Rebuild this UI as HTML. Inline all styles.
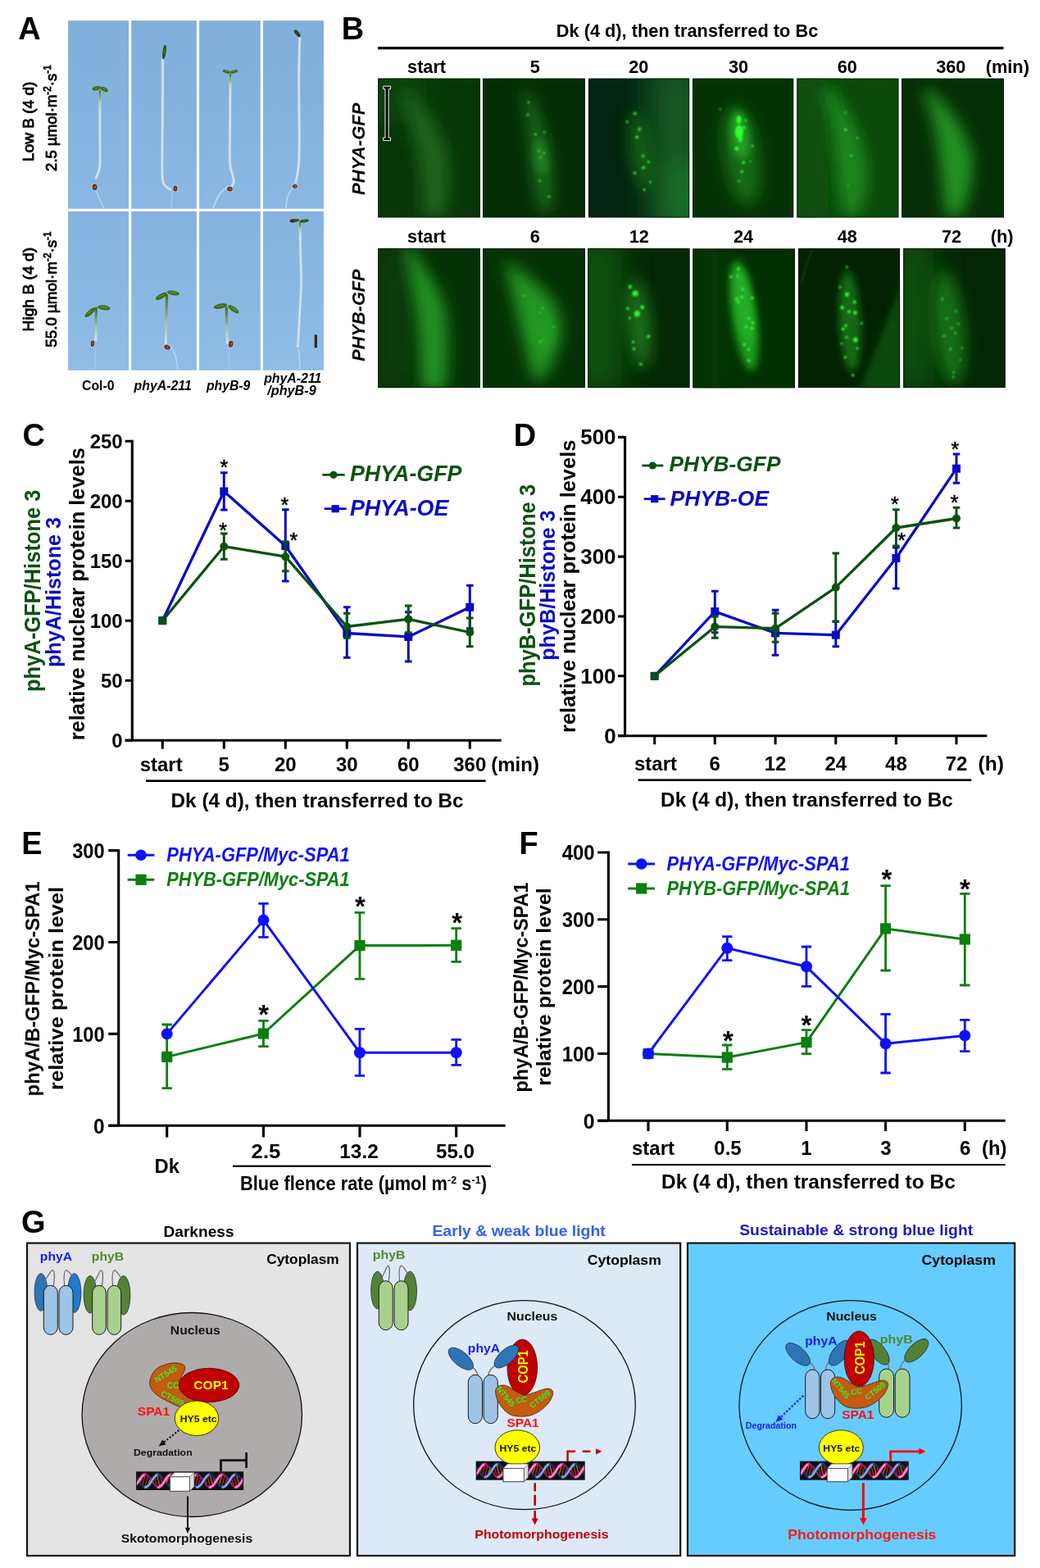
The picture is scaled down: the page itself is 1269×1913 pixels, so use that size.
<!DOCTYPE html>
<html lang="en"><head><meta charset="utf-8"><title>Figure</title>
<style>
html,body{margin:0;padding:0;background:#fff;}
body{width:1269px;height:1913px;overflow:hidden;}
svg{display:block;}
text{font-family:"Liberation Sans", Arial, sans-serif;font-weight:bold;}
</style></head><body>
<svg width="1269" height="1913" viewBox="0 0 1269 1913">
<defs>
<linearGradient id="skyA" x1="0" y1="0" x2="0" y2="1"><stop offset="0" stop-color="#81aedb"/><stop offset="1" stop-color="#8ab7e3"/></linearGradient>
<linearGradient id="skyB" x1="0" y1="0" x2="0" y2="1"><stop offset="0" stop-color="#85b3df"/><stop offset="1" stop-color="#90bce6"/></linearGradient>
<filter id="soft" x="-5%" y="-5%" width="110%" height="110%"><feGaussianBlur stdDeviation="0.45"/></filter>
<linearGradient id="gs1" gradientUnits="userSpaceOnUse" x1="121.9" y1="111.3" x2="121.9" y2="138.5"><stop offset="0" stop-color="#4f7f2c"/><stop offset="0.55" stop-color="#b7d3b8"/><stop offset="1" stop-color="#cfe0ea"/></linearGradient>
<linearGradient id="gs2" gradientUnits="userSpaceOnUse" x1="281.0" y1="91.1" x2="281.0" y2="113.3"><stop offset="0" stop-color="#4f7f2c"/><stop offset="0.55" stop-color="#b7d3b8"/><stop offset="1" stop-color="#cfe0ea"/></linearGradient>
<linearGradient id="gs3" gradientUnits="userSpaceOnUse" x1="117.3" y1="376.1" x2="116.8" y2="414.6"><stop offset="0" stop-color="#3f6e20"/><stop offset="0.55" stop-color="#9cc2a0"/><stop offset="1" stop-color="#cfe0ea"/></linearGradient>
<linearGradient id="gs4" gradientUnits="userSpaceOnUse" x1="203.6" y1="360.4" x2="202.3" y2="418.9"><stop offset="0" stop-color="#3f6e20"/><stop offset="0.55" stop-color="#9cc2a0"/><stop offset="1" stop-color="#cfe0ea"/></linearGradient>
<linearGradient id="gs5" gradientUnits="userSpaceOnUse" x1="276.2" y1="375.6" x2="277.4" y2="417.9"><stop offset="0" stop-color="#3f6e20"/><stop offset="0.55" stop-color="#9cc2a0"/><stop offset="1" stop-color="#cfe0ea"/></linearGradient>
<linearGradient id="gs6" gradientUnits="userSpaceOnUse" x1="366.0" y1="272.2" x2="366.2" y2="287.3"><stop offset="0" stop-color="#4f7f2c"/><stop offset="0.55" stop-color="#b7d3b8"/><stop offset="1" stop-color="#cfe0ea"/></linearGradient>
<filter id="b1" x="-50%" y="-50%" width="200%" height="200%"><feGaussianBlur stdDeviation="0.9"/></filter>
<filter id="b2" x="-50%" y="-50%" width="200%" height="200%"><feGaussianBlur stdDeviation="2.2"/></filter>
<filter id="b3" x="-80%" y="-80%" width="260%" height="260%"><feGaussianBlur stdDeviation="5"/></filter>
<filter id="b6" x="-100%" y="-100%" width="300%" height="300%"><feGaussianBlur stdDeviation="9"/></filter>
<filter id="b10" x="-100%" y="-100%" width="300%" height="300%"><feGaussianBlur stdDeviation="18"/></filter>
<clipPath id="fc1"><rect x="461.2" y="95.5" width="124.8" height="170.1"/></clipPath>
<clipPath id="fc2"><rect x="589" y="95.5" width="124.9" height="170.1"/></clipPath>
<clipPath id="fc3"><rect x="717.8" y="95.5" width="123.4" height="170.1"/></clipPath>
<clipPath id="fc4"><rect x="845" y="95.5" width="123.4" height="170.1"/></clipPath>
<clipPath id="fc5"><rect x="972.3" y="95.5" width="124.3" height="170.1"/></clipPath>
<clipPath id="fc6"><rect x="1100.1" y="95.5" width="124.9" height="170.1"/></clipPath>
<clipPath id="fc7"><rect x="461.2" y="302.8" width="124.8" height="170.4"/></clipPath>
<clipPath id="fc8"><rect x="589" y="302.8" width="125.0" height="170.4"/></clipPath>
<clipPath id="fc9"><rect x="717.2" y="302.8" width="124.5" height="170.4"/></clipPath>
<clipPath id="fc10"><rect x="845.2" y="303.3" width="124.9" height="170.2"/></clipPath>
<clipPath id="fc11"><rect x="973.8" y="302.8" width="124.4" height="170.4"/></clipPath>
<clipPath id="fc12"><rect x="1102.2" y="302.8" width="124.6" height="170.4"/></clipPath>
<clipPath id="dna166"><rect x="167.1" y="1796.3" width="129.0" height="20.7"/></clipPath>
<clipPath id="dna580"><rect x="581.7" y="1783.7" width="131.0" height="21.0"/></clipPath>
<clipPath id="dna976"><rect x="977" y="1783.7" width="130.7" height="21.0"/></clipPath>
</defs>
<rect width="1269" height="1913" fill="#fff"/>
<text x="35.9" y="48.1" font-size="38" text-anchor="middle">A</text>
<rect x="83.1" y="25.1" width="74.0" height="229.6" fill="url(#skyA)"/>
<rect x="160.2" y="25.1" width="79.7" height="229.6" fill="url(#skyA)"/>
<rect x="243.1" y="25.1" width="74.7" height="229.6" fill="url(#skyA)"/>
<rect x="321.0" y="25.1" width="74.0" height="229.6" fill="url(#skyA)"/>
<rect x="83.1" y="257.9" width="74.0" height="193.9" fill="url(#skyB)"/>
<rect x="160.2" y="257.9" width="79.7" height="193.9" fill="url(#skyB)"/>
<rect x="243.1" y="257.9" width="74.7" height="193.9" fill="url(#skyB)"/>
<rect x="321.0" y="257.9" width="74.0" height="193.9" fill="url(#skyB)"/>
<g filter="url(#soft)">
<path d="M117.8 233.1 C118.5 234.8 120.1 239.8 121.6 243.2 C123.1 246.5 125.8 251.6 126.7 253.3" fill="none" stroke="#c2d8ee" stroke-width="1.5" stroke-linecap="round" opacity="0.75"/>
<path d="M121.9 112.0 C121.9 119.8 121.9 144.0 121.9 158.7 C121.9 173.4 122.2 191.7 121.9 200.3 C121.5 208.9 120.6 207.6 119.8 210.4 C119.0 213.2 117.5 216.1 117.1 217.2" fill="none" stroke="#a3c2e0" stroke-width="4.0" stroke-linecap="round" opacity="0.85"/>
<path d="M121.9 112.0 C121.9 119.8 121.9 144.0 121.9 158.7 C121.9 173.4 122.2 191.7 121.9 200.3 C121.5 208.9 120.6 207.6 119.8 210.4 C119.0 213.2 117.5 216.1 117.1 217.2" fill="none" stroke="#cfe1f0" stroke-width="2.4000000000000004" stroke-linecap="round" opacity="0.9"/>
<path d="M121.9 112.0 C121.9 119.8 121.9 144.0 121.9 158.7 C121.9 173.4 122.2 191.7 121.9 200.3 C121.5 208.9 120.6 207.6 119.8 210.4 C119.0 213.2 117.5 216.1 117.1 217.2" fill="none" stroke="#eef5fa" stroke-width="1.0" stroke-linecap="butt" opacity="0.8" stroke-dasharray="2.5 1.4 1 1 3 1.2"/>
<path d="M121.9 111.3 C121.9 115.8 121.9 134.0 121.9 138.5" fill="none" stroke="url(#gs1)" stroke-width="2.6" stroke-linecap="round"/>
<ellipse cx="117.6" cy="107.8" rx="5.3" ry="2.5" fill="#3c6a1e" transform="rotate(-12 117.6 107.8)"/>
<ellipse cx="117.6" cy="107.4" rx="3.2" ry="1.0" fill="#5c8a2c" opacity="0.8" transform="rotate(-12 117.6 107.8)"/>
<ellipse cx="127.2" cy="109.0" rx="5.0" ry="2.5" fill="#3c6a1e" transform="rotate(26 127.2 109.0)"/>
<ellipse cx="127.2" cy="108.6" rx="3.0" ry="1.0" fill="#5c8a2c" opacity="0.8" transform="rotate(26 127.2 109.0)"/>
<ellipse cx="115.6" cy="228.3" rx="4.0" ry="4.8" fill="#c9d6e0" opacity="0.6" transform="rotate(0 115.6 228.3)"/>
<ellipse cx="115.6" cy="228.3" rx="3.0" ry="3.8" fill="#5e2f1a" transform="rotate(0 115.6 228.3)"/>
<ellipse cx="115.9" cy="228.3" rx="1.5" ry="2.1" fill="#94553a" transform="rotate(0 115.6 228.3)"/>
<path d="M209.9 234.3 C209.7 237.5 209.2 250.1 209.1 253.3" fill="none" stroke="#c2d8ee" stroke-width="1.2" stroke-linecap="round" opacity="0.55"/>
<path d="M198.5 72.5 C198.5 84.7 198.4 122.9 198.3 146.1 C198.2 169.3 197.6 198.4 198.0 211.6 C198.4 224.9 198.9 222.2 200.5 225.5 C202.2 228.8 206.8 230.3 208.1 231.3" fill="none" stroke="#a3c2e0" stroke-width="4.0" stroke-linecap="round" opacity="0.85"/>
<path d="M198.5 72.5 C198.5 84.7 198.4 122.9 198.3 146.1 C198.2 169.3 197.6 198.4 198.0 211.6 C198.4 224.9 198.9 222.2 200.5 225.5 C202.2 228.8 206.8 230.3 208.1 231.3" fill="none" stroke="#cfe1f0" stroke-width="2.4000000000000004" stroke-linecap="round" opacity="0.9"/>
<path d="M198.5 72.5 C198.5 84.7 198.4 122.9 198.3 146.1 C198.2 169.3 197.6 198.4 198.0 211.6 C198.4 224.9 198.9 222.2 200.5 225.5 C202.2 228.8 206.8 230.3 208.1 231.3" fill="none" stroke="#eef5fa" stroke-width="1.0" stroke-linecap="butt" opacity="0.8" stroke-dasharray="2.5 1.4 1 1 3 1.2"/>
<ellipse cx="200.5" cy="63.4" rx="2.1" ry="9.1" fill="#2c4f1a" transform="rotate(8 200.5 63.4)"/>
<ellipse cx="200.5" cy="63.0" rx="1.3" ry="3.6" fill="#456f24" opacity="0.8" transform="rotate(8 200.5 63.4)"/>
<ellipse cx="213.9" cy="230.1" rx="3.5" ry="4.5" fill="#c9d6e0" opacity="0.6" transform="rotate(0 213.9 230.1)"/>
<ellipse cx="213.9" cy="230.1" rx="2.5" ry="3.5" fill="#5e2f1a" transform="rotate(0 213.9 230.1)"/>
<ellipse cx="214.2" cy="230.1" rx="1.3" ry="1.9" fill="#94553a" transform="rotate(0 213.9 230.1)"/>
<path d="M278.0 227.3 C276.3 228.9 270.8 232.5 267.9 236.9 C264.9 241.2 261.6 250.5 260.3 253.3" fill="none" stroke="#c2d8ee" stroke-width="2.0" stroke-linecap="round" opacity="0.85"/>
<path d="M281.0 91.9 C280.9 100.9 280.8 128.4 280.7 146.1 C280.6 163.7 280.1 186.9 280.5 197.8 C280.9 208.7 282.4 207.7 283.2 211.6 C284.0 215.6 285.4 219.1 285.3 221.7 C285.1 224.3 283.0 226.4 282.5 227.3" fill="none" stroke="#a3c2e0" stroke-width="4.0" stroke-linecap="round" opacity="0.85"/>
<path d="M281.0 91.9 C280.9 100.9 280.8 128.4 280.7 146.1 C280.6 163.7 280.1 186.9 280.5 197.8 C280.9 208.7 282.4 207.7 283.2 211.6 C284.0 215.6 285.4 219.1 285.3 221.7 C285.1 224.3 283.0 226.4 282.5 227.3" fill="none" stroke="#cfe1f0" stroke-width="2.4000000000000004" stroke-linecap="round" opacity="0.9"/>
<path d="M281.0 91.9 C280.9 100.9 280.8 128.4 280.7 146.1 C280.6 163.7 280.1 186.9 280.5 197.8 C280.9 208.7 282.4 207.7 283.2 211.6 C284.0 215.6 285.4 219.1 285.3 221.7 C285.1 224.3 283.0 226.4 282.5 227.3" fill="none" stroke="#eef5fa" stroke-width="1.0" stroke-linecap="butt" opacity="0.8" stroke-dasharray="2.5 1.4 1 1 3 1.2"/>
<path d="M281.0 91.1 C281.0 94.8 281.0 109.6 281.0 113.3" fill="none" stroke="url(#gs2)" stroke-width="2.6" stroke-linecap="round"/>
<ellipse cx="276.4" cy="87.3" rx="4.8" ry="1.9" fill="#3c6a1e" transform="rotate(16 276.4 87.3)"/>
<ellipse cx="276.4" cy="86.9" rx="2.9" ry="0.8" fill="#5c8a2c" opacity="0.8" transform="rotate(16 276.4 87.3)"/>
<ellipse cx="285.5" cy="87.3" rx="4.8" ry="1.9" fill="#3c6a1e" transform="rotate(-16 285.5 87.3)"/>
<ellipse cx="285.5" cy="86.9" rx="2.9" ry="0.8" fill="#5c8a2c" opacity="0.8" transform="rotate(-16 285.5 87.3)"/>
<ellipse cx="280.5" cy="230.6" rx="4.3" ry="3.8" fill="#c9d6e0" opacity="0.6" transform="rotate(0 280.5 230.6)"/>
<ellipse cx="280.5" cy="230.6" rx="3.3" ry="2.8" fill="#5e2f1a" transform="rotate(0 280.5 230.6)"/>
<ellipse cx="280.8" cy="230.6" rx="1.6" ry="1.5" fill="#94553a" transform="rotate(0 280.5 230.6)"/>
<path d="M356.9 229.8 C355.9 231.4 352.4 235.5 351.1 239.4 C349.7 243.3 349.2 250.9 348.8 253.3" fill="none" stroke="#c2d8ee" stroke-width="1.8" stroke-linecap="round" opacity="0.8"/>
<path d="M365.7 46.5 C365.5 54.7 364.8 81.2 364.7 95.7 C364.6 110.1 364.9 120.9 364.9 133.5 C365.0 146.1 365.3 160.0 365.2 171.3 C365.1 182.6 365.2 193.1 364.4 201.6 C363.7 210.0 361.5 218.8 360.9 222.2" fill="none" stroke="#a3c2e0" stroke-width="4.0" stroke-linecap="round" opacity="0.85"/>
<path d="M365.7 46.5 C365.5 54.7 364.8 81.2 364.7 95.7 C364.6 110.1 364.9 120.9 364.9 133.5 C365.0 146.1 365.3 160.0 365.2 171.3 C365.1 182.6 365.2 193.1 364.4 201.6 C363.7 210.0 361.5 218.8 360.9 222.2" fill="none" stroke="#cfe1f0" stroke-width="2.4000000000000004" stroke-linecap="round" opacity="0.9"/>
<path d="M365.7 46.5 C365.5 54.7 364.8 81.2 364.7 95.7 C364.6 110.1 364.9 120.9 364.9 133.5 C365.0 146.1 365.3 160.0 365.2 171.3 C365.1 182.6 365.2 193.1 364.4 201.6 C363.7 210.0 361.5 218.8 360.9 222.2" fill="none" stroke="#eef5fa" stroke-width="1.0" stroke-linecap="butt" opacity="0.8" stroke-dasharray="2.5 1.4 1 1 3 1.2"/>
<ellipse cx="362.7" cy="40.7" rx="2.3" ry="5.3" fill="#2a3a18" transform="rotate(-38 362.7 40.7)"/>
<ellipse cx="362.7" cy="40.3" rx="1.4" ry="2.1" fill="#3c5020" opacity="0.8" transform="rotate(-38 362.7 40.7)"/>
<ellipse cx="359.9" cy="227.3" rx="3.8" ry="3.5" fill="#c9d6e0" opacity="0.6" transform="rotate(0 359.9 227.3)"/>
<ellipse cx="359.9" cy="227.3" rx="2.8" ry="2.5" fill="#5e2f1a" transform="rotate(0 359.9 227.3)"/>
<ellipse cx="360.2" cy="227.3" rx="1.4" ry="1.4" fill="#94553a" transform="rotate(0 359.9 227.3)"/>
<path d="M116.6 424.0 C116.5 426.0 116.1 431.7 116.1 436.1 C116.0 440.4 116.3 447.6 116.3 449.9" fill="none" stroke="#c2d8ee" stroke-width="1.5" stroke-linecap="round" opacity="0.4"/>
<path d="M117.3 376.1 C117.3 379.3 117.2 389.3 117.1 395.7 C117.0 402.2 116.9 411.5 116.8 414.6" fill="none" stroke="url(#gs3)" stroke-width="3.2" stroke-linecap="round"/>
<ellipse cx="110.0" cy="381.1" rx="8.3" ry="2.8" fill="#3a6a1c" transform="rotate(-42 110.0 381.1)"/>
<ellipse cx="110.0" cy="380.7" rx="5.0" ry="1.1" fill="#5a8a2a" opacity="0.8" transform="rotate(-42 110.0 381.1)"/>
<ellipse cx="126.9" cy="375.3" rx="7.8" ry="3.0" fill="#3f701e" transform="rotate(8 126.9 375.3)"/>
<ellipse cx="126.9" cy="374.9" rx="4.7" ry="1.2" fill="#5f902c" opacity="0.8" transform="rotate(8 126.9 375.3)"/>
<ellipse cx="113.0" cy="419.2" rx="3.3" ry="4.8" fill="#c9d6e0" opacity="0.6" transform="rotate(4 113.0 419.2)"/>
<ellipse cx="113.0" cy="419.2" rx="2.3" ry="3.8" fill="#5e2f1a" transform="rotate(4 113.0 419.2)"/>
<ellipse cx="113.3" cy="419.2" rx="1.1" ry="2.1" fill="#94553a" transform="rotate(4 113.0 419.2)"/>
<path d="M207.3 421.4 C208.4 423.3 212.1 427.5 213.6 432.3 C215.2 437.0 216.2 447.0 216.7 449.9" fill="none" stroke="#c2d8ee" stroke-width="1.8" stroke-linecap="round" opacity="0.8"/>
<path d="M203.6 360.4 C203.4 365.5 203.0 380.9 202.8 390.7 C202.6 400.4 202.4 414.2 202.3 418.9" fill="none" stroke="url(#gs4)" stroke-width="3.2" stroke-linecap="round"/>
<ellipse cx="196.8" cy="361.4" rx="7.8" ry="3.0" fill="#3a6a1c" transform="rotate(-30 196.8 361.4)"/>
<ellipse cx="196.8" cy="361.0" rx="4.7" ry="1.2" fill="#5a8a2a" opacity="0.8" transform="rotate(-30 196.8 361.4)"/>
<ellipse cx="211.6" cy="357.4" rx="7.6" ry="2.8" fill="#3f701e" transform="rotate(10 211.6 357.4)"/>
<ellipse cx="211.6" cy="357.0" rx="4.5" ry="1.1" fill="#5f902c" opacity="0.8" transform="rotate(10 211.6 357.4)"/>
<ellipse cx="204.1" cy="423.7" rx="4.8" ry="3.8" fill="#c9d6e0" opacity="0.6" transform="rotate(25 204.1 423.7)"/>
<ellipse cx="204.1" cy="423.7" rx="3.8" ry="2.8" fill="#5e2f1a" transform="rotate(25 204.1 423.7)"/>
<ellipse cx="204.4" cy="423.7" rx="1.9" ry="1.5" fill="#94553a" transform="rotate(25 204.1 423.7)"/>
<path d="M279.2 425.0 C279.3 426.8 279.4 431.9 279.5 436.1 C279.5 440.2 279.7 447.6 279.7 449.9" fill="none" stroke="#c2d8ee" stroke-width="1.5" stroke-linecap="round" opacity="0.4"/>
<path d="M276.2 375.6 C276.3 378.9 276.5 388.7 276.7 395.7 C276.9 402.8 277.3 414.2 277.4 417.9" fill="none" stroke="url(#gs5)" stroke-width="3.2" stroke-linecap="round"/>
<ellipse cx="268.9" cy="373.5" rx="8.3" ry="3.0" fill="#3a6a1c" transform="rotate(-12 268.9 373.5)"/>
<ellipse cx="268.9" cy="373.1" rx="5.0" ry="1.2" fill="#5a8a2a" opacity="0.8" transform="rotate(-12 268.9 373.5)"/>
<ellipse cx="284.8" cy="377.1" rx="7.8" ry="3.0" fill="#3f701e" transform="rotate(36 284.8 377.1)"/>
<ellipse cx="284.8" cy="376.7" rx="4.7" ry="1.2" fill="#5f902c" opacity="0.8" transform="rotate(36 284.8 377.1)"/>
<ellipse cx="281.7" cy="419.7" rx="3.8" ry="5.0" fill="#c9d6e0" opacity="0.6" transform="rotate(10 281.7 419.7)"/>
<ellipse cx="281.7" cy="419.7" rx="2.8" ry="4.0" fill="#5e2f1a" transform="rotate(10 281.7 419.7)"/>
<ellipse cx="282.0" cy="419.7" rx="1.4" ry="2.2" fill="#94553a" transform="rotate(10 281.7 419.7)"/>
<path d="M364.4 426.5 C364.6 428.5 365.2 434.7 365.5 438.6 C365.7 442.5 366.1 448.1 366.2 449.9" fill="none" stroke="#c2d8ee" stroke-width="1.8" stroke-linecap="round" opacity="0.8"/>
<path d="M366.0 273.4 C366.1 279.5 366.5 297.6 366.7 310.0 C367.0 322.4 367.7 335.2 367.5 347.8 C367.3 360.4 366.1 373.1 365.5 385.6 C364.8 398.2 363.8 416.7 363.4 423.0" fill="none" stroke="#a3c2e0" stroke-width="4.0" stroke-linecap="round" opacity="0.85"/>
<path d="M366.0 273.4 C366.1 279.5 366.5 297.6 366.7 310.0 C367.0 322.4 367.7 335.2 367.5 347.8 C367.3 360.4 366.1 373.1 365.5 385.6 C364.8 398.2 363.8 416.7 363.4 423.0" fill="none" stroke="#cfe1f0" stroke-width="2.4000000000000004" stroke-linecap="round" opacity="0.9"/>
<path d="M366.0 273.4 C366.1 279.5 366.5 297.6 366.7 310.0 C367.0 322.4 367.7 335.2 367.5 347.8 C367.3 360.4 366.1 373.1 365.5 385.6 C364.8 398.2 363.8 416.7 363.4 423.0" fill="none" stroke="#eef5fa" stroke-width="1.0" stroke-linecap="butt" opacity="0.8" stroke-dasharray="2.5 1.4 1 1 3 1.2"/>
<path d="M366.0 272.2 C366.0 274.7 366.2 284.8 366.2 287.3" fill="none" stroke="url(#gs6)" stroke-width="2.6" stroke-linecap="round"/>
<ellipse cx="359.9" cy="269.1" rx="5.5" ry="2.0" fill="#33501a" transform="rotate(-6 359.9 269.1)"/>
<ellipse cx="359.9" cy="268.7" rx="3.3" ry="0.8" fill="#4a6a22" opacity="0.8" transform="rotate(-6 359.9 269.1)"/>
<ellipse cx="371.3" cy="269.6" rx="5.5" ry="1.9" fill="#33501a" transform="rotate(-6 371.3 269.6)"/>
<ellipse cx="371.3" cy="269.2" rx="3.3" ry="0.8" fill="#4a6a22" opacity="0.8" transform="rotate(-6 371.3 269.6)"/>
<ellipse cx="356.6" cy="269.6" rx="3.1" ry="2.1" fill="#4a2a16"/>
</g>
<rect x="383.7" y="408.4" width="3.3" height="15.8" fill="#3a2626"/>
<text x="41.4" y="148.3" font-size="19" text-anchor="middle" style="font-weight:normal;" transform="rotate(-90 41.4 148.3)" textLength="97.2" lengthAdjust="spacingAndGlyphs" stroke="#000" stroke-width="0.85" stroke-linejoin="round">Low B (4 d)</text>
<text x="68.9" y="144.1" font-size="19" text-anchor="middle" style="font-weight:normal;" transform="rotate(-90 68.9 144.1)" textLength="129.6" lengthAdjust="spacingAndGlyphs" stroke="#000" stroke-width="0.85" stroke-linejoin="round">2.5 µmol·m<tspan dy="-7" font-size="12">-2</tspan><tspan dy="7">·s</tspan><tspan dy="-7" font-size="12">-1</tspan></text>
<text x="41.4" y="353.2" font-size="19" text-anchor="middle" style="font-weight:normal;" transform="rotate(-90 41.4 353.2)" textLength="102.6" lengthAdjust="spacingAndGlyphs" stroke="#000" stroke-width="0.85" stroke-linejoin="round">High B (4 d)</text>
<text x="68.9" y="353.0" font-size="19" text-anchor="middle" style="font-weight:normal;" transform="rotate(-90 68.9 353.0)" textLength="141.3" lengthAdjust="spacingAndGlyphs" stroke="#000" stroke-width="0.85" stroke-linejoin="round">55.0 µmol·m<tspan dy="-7" font-size="12">-2</tspan><tspan dy="7">·s</tspan><tspan dy="-7" font-size="12">-1</tspan></text>
<text x="119.8" y="475.5" font-size="15.81" text-anchor="middle">Col-0</text>
<text x="198.7" y="475.5" font-size="15.89" text-anchor="middle" style="font-style:italic;">phyA-211</text>
<text x="278.6" y="475.5" font-size="15.73" text-anchor="middle" style="font-style:italic;">phyB-9</text>
<text x="357.3" y="466.8" font-size="15.89" text-anchor="middle" style="font-style:italic;">phyA-211</text>
<text x="356.0" y="481.8" font-size="16.19" text-anchor="middle" style="font-style:italic;">/phyB-9</text>
<text x="430.5" y="47.7" font-size="38" text-anchor="middle">B</text>
<rect x="461" y="57" width="763.5" height="3.3" fill="#000"/>
<text x="838.5" y="45.2" font-size="21.79" text-anchor="middle">Dk (4 d), then transferred to Bc</text>
<text x="520.6" y="88.5" font-size="21.7" text-anchor="middle">start</text>
<text x="652.7" y="88.5" font-size="21.7" text-anchor="middle">5</text>
<text x="779.3" y="88.5" font-size="21.7" text-anchor="middle">20</text>
<text x="901.0" y="88.5" font-size="21.7" text-anchor="middle">30</text>
<text x="1033.7" y="88.5" font-size="21.7" text-anchor="middle">60</text>
<text x="1160.3" y="88.5" font-size="21.7" text-anchor="middle">360</text>
<text x="1229.3" y="88.5" font-size="21.8" text-anchor="middle">(min)</text>
<text x="520.6" y="295.7" font-size="21.7" text-anchor="middle">start</text>
<text x="652.7" y="295.7" font-size="21.7" text-anchor="middle">6</text>
<text x="779.8" y="295.7" font-size="21.7" text-anchor="middle">12</text>
<text x="907.0" y="295.7" font-size="21.7" text-anchor="middle">24</text>
<text x="1033.7" y="295.7" font-size="21.7" text-anchor="middle">48</text>
<text x="1161.0" y="295.7" font-size="21.7" text-anchor="middle">72</text>
<text x="1222.7" y="295.7" font-size="21.89" text-anchor="middle">(h)</text>
<text x="445.0" y="181.7" font-size="22.11" text-anchor="middle" style="font-style:italic;" transform="rotate(-90 445.0 181.7)">PHYA-GFP</text>
<text x="445.0" y="384.5" font-size="21.73" text-anchor="middle" style="font-style:italic;" transform="rotate(-90 445.0 384.5)">PHYB-GFP</text>
<g clip-path="url(#fc1)">
<rect x="461.2" y="95.5" width="124.8" height="170.1" fill="#073607"/>
<rect x="455" y="80" width="65" height="70" fill="#0e460e" opacity="0.9" filter="url(#b10)"/>
<path d="M498 110 Q534 145 546 185 Q552 225 544 264 L514 264 Q516 225 508 185 Q500 145 488 112Z" fill="#1a621a" filter="url(#b6)" opacity="1"/>
<rect x="461.7" y="96.0" width="123.8" height="169.1" fill="none" stroke="#021502" stroke-width="1.2" opacity="0.8"/>
</g>
<path d="M467.6 105.2 h9 v3.4 h-2.4 v59.4 h2.4 v3.4 h-9 v-3.4 h2.4 v-59.4 h-2.4z" fill="#0a0a0a" stroke="#f4f4f4" stroke-width="1"/>
<g clip-path="url(#fc2)">
<rect x="589" y="95.5" width="124.9" height="170.1" fill="#052e05"/>
<path d="M641 108 Q662 140 670 185 Q676 225 672 258 L660 258 Q650 225 648 185 Q644 140 637 110Z" fill="#1d6e1d" filter="url(#b6)" opacity="1"/>
<ellipse cx="660" cy="192" rx="8" ry="22" fill="#238023" transform="rotate(-8 660 192)" filter="url(#b3)" opacity="0.9"/>
<g filter="url(#b1)" fill="#39c039"><circle cx="645" cy="125" r="1.7"/><circle cx="644" cy="140" r="1.7"/><circle cx="664.4" cy="161.4" r="1.4"/><circle cx="653.4" cy="164" r="1.7"/><circle cx="657.5" cy="184" r="1.7"/><circle cx="663.8" cy="186.5" r="1.7"/><circle cx="659.6" cy="192.3" r="1.7"/><circle cx="658.6" cy="220.5" r="1.7"/><circle cx="669.7" cy="239.7" r="1.7"/></g>
<rect x="589.5" y="96.0" width="123.9" height="169.1" fill="none" stroke="#021502" stroke-width="1.2" opacity="0.8"/>
</g>
<g clip-path="url(#fc3)">
<rect x="717.8" y="95.5" width="123.4" height="170.1" fill="#032410"/>
<rect x="790" y="80" width="70" height="200" fill="#145a20" opacity="1" filter="url(#b10)"/>
<rect x="818" y="200" width="42" height="80" fill="#1f7a2a" opacity="0.9" filter="url(#b10)"/>
<ellipse cx="782" cy="185" rx="13" ry="48" fill="#156015" transform="rotate(-8 782 185)" filter="url(#b6)" opacity="0.95"/>
<g filter="url(#b1)" fill="#35e040"><circle cx="774.6" cy="138.4" r="2.0"/><circle cx="765.2" cy="148.5" r="1.6"/><circle cx="780.3" cy="157.4" r="2.0"/><circle cx="777.2" cy="167.3" r="2.0"/><circle cx="784.7" cy="190.2" r="1.8"/><circle cx="791.3" cy="197.5" r="1.8"/><circle cx="785.1" cy="204.4" r="2.0"/><circle cx="774.6" cy="211.1" r="1.8"/><circle cx="793.4" cy="222" r="1.6"/><circle cx="786.1" cy="231.6" r="1.6"/></g>
<rect x="718.3" y="96.0" width="122.4" height="169.1" fill="none" stroke="#021502" stroke-width="1.2" opacity="0.8"/>
</g>
<g clip-path="url(#fc4)">
<rect x="845" y="95.5" width="123.4" height="170.1" fill="#043204"/>
<ellipse cx="905" cy="190" rx="22" ry="62" fill="#156a15" transform="rotate(-8 905 190)" filter="url(#b6)" opacity="1"/>
<ellipse cx="903" cy="165" rx="11" ry="30" fill="#22a022" transform="rotate(-6 903 165)" filter="url(#b3)" opacity="1"/>
<g filter="url(#b1)" fill="#2eff2e"><ellipse cx="901.5" cy="146" rx="3" ry="5"/><ellipse cx="902" cy="161" rx="5" ry="8.5"/><ellipse cx="903.5" cy="170" rx="2.5" ry="3"/></g>
<g filter="url(#b1)" fill="#35ff35"><circle cx="910" cy="146.8" r="1.3"/><circle cx="907.9" cy="155.8" r="1.8"/><circle cx="898.9" cy="181.2" r="2.3"/><circle cx="918.1" cy="178.3" r="1.2"/><circle cx="907.2" cy="198.2" r="1.7"/><circle cx="915.6" cy="196.9" r="1.0"/><circle cx="905.2" cy="209.4" r="1.7"/><circle cx="902" cy="221.1" r="1.2"/><circle cx="879" cy="133.2" r="1.0"/></g>
<rect x="845.5" y="96.0" width="122.4" height="169.1" fill="none" stroke="#021502" stroke-width="1.2" opacity="0.8"/>
</g>
<g clip-path="url(#fc5)">
<rect x="972.3" y="95.5" width="124.3" height="170.1" fill="#0a4a0a"/>
<rect x="965" y="80" width="45" height="200" fill="#0c500c" opacity="1" filter="url(#b10)"/>
<path d="M1012 105 Q1044 140 1056 190 Q1062 225 1050 262 L1028 262 Q1022 225 1018 190 Q1014 140 1002 108Z" fill="#1c861c" filter="url(#b6)" opacity="1"/>
<g filter="url(#b1)" fill="#38e838"><circle cx="1031.8" cy="137.6" r="1.2"/><circle cx="1031.8" cy="158.3" r="1.8"/><circle cx="1045.8" cy="168.3" r="1.3"/><circle cx="1038.5" cy="189.8" r="1.5"/><circle cx="1035.6" cy="226.8" r="1.0"/></g>
<rect x="972.8" y="96.0" width="123.3" height="169.1" fill="none" stroke="#021502" stroke-width="1.2" opacity="0.8"/>
</g>
<g clip-path="url(#fc6)">
<rect x="1100.1" y="95.5" width="124.9" height="170.1" fill="#053005"/>
<path d="M1134 110 Q1172 140 1186 190 Q1190 225 1172 264 L1154 264 Q1150 225 1146 190 Q1140 140 1126 112Z" fill="#229222" filter="url(#b6)" opacity="1"/>
<rect x="1100.6" y="96.0" width="123.9" height="169.1" fill="none" stroke="#021502" stroke-width="1.2" opacity="0.8"/>
</g>
<g clip-path="url(#fc7)">
<rect x="461.2" y="302.8" width="124.8" height="170.4" fill="#043204"/>
<rect x="455" y="300" width="45" height="180" fill="#0a3c0a" opacity="0.9" filter="url(#b10)"/>
<path d="M500 300 Q530 340 542 372 Q550 410 544 476 L514 476 Q512 410 506 372 Q500 340 494 302Z" fill="#229022" filter="url(#b6)" opacity="1"/>
<rect x="461.7" y="303.3" width="123.8" height="169.4" fill="none" stroke="#021502" stroke-width="1.2" opacity="0.8"/>
</g>
<g clip-path="url(#fc8)">
<rect x="589" y="302.8" width="125.0" height="170.4" fill="#043204"/>
<path d="M618 318 Q650 340 670 360 Q688 385 684 412 Q676 442 664 462 L650 462 Q634 400 616 320Z" fill="#239423" filter="url(#b6)" opacity="1"/>
<ellipse cx="660" cy="400" rx="14" ry="30" fill="#249824" transform="rotate(-10 660 400)" filter="url(#b3)" opacity="0.8"/>
<g filter="url(#b1)" fill="#32d832"><circle cx="638.8" cy="360.7" r="1.2"/><circle cx="662.3" cy="376" r="1.4"/><circle cx="659.2" cy="381.2" r="1.2"/><circle cx="675.3" cy="398.3" r="1.4"/><circle cx="662.8" cy="415" r="1.3"/><circle cx="659.2" cy="417.1" r="1.5"/></g>
<rect x="589.5" y="303.3" width="124.0" height="169.4" fill="none" stroke="#021502" stroke-width="1.2" opacity="0.8"/>
</g>
<g clip-path="url(#fc9)">
<rect x="717.2" y="302.8" width="124.5" height="170.4" fill="#032803"/>
<rect x="700" y="290" width="60" height="190" fill="#0f5210" opacity="1" filter="url(#b10)"/>
<ellipse cx="780" cy="395" rx="14" ry="55" fill="#1a6e1a" transform="rotate(-6 780 395)" filter="url(#b6)" opacity="1"/>
<g filter="url(#b1)" fill="#38f040"><circle cx="768.8" cy="349.9" r="2.2"/><circle cx="775.1" cy="358" r="3.6"/><circle cx="783.6" cy="374.9" r="2.4"/><circle cx="765.9" cy="376.4" r="1.8"/><circle cx="777.4" cy="382.7" r="3.6"/><circle cx="768.4" cy="387.9" r="1.6"/><circle cx="791.3" cy="410.8" r="2.0"/><circle cx="772.6" cy="417.1" r="1.6"/><circle cx="773.6" cy="425.5" r="1.8"/><circle cx="782" cy="444.3" r="1.8"/></g>
<rect x="717.7" y="303.3" width="123.5" height="169.4" fill="none" stroke="#021502" stroke-width="1.2" opacity="0.8"/>
</g>
<g clip-path="url(#fc10)">
<rect x="845.2" y="303.3" width="124.9" height="170.2" fill="#033003"/>
<rect x="860" y="300" width="25" height="180" fill="#0a400a" opacity="0.8" filter="url(#b10)"/>
<ellipse cx="908" cy="385" rx="15" ry="68" fill="#1f9a1f" transform="rotate(-8 908 385)" filter="url(#b3)" opacity="1"/>
<ellipse cx="908" cy="375" rx="9" ry="48" fill="#26b026" transform="rotate(-8 908 375)" filter="url(#b3)" opacity="0.9"/>
<g filter="url(#b1)" fill="#40f440"><circle cx="901" cy="328" r="1.8"/><circle cx="892" cy="337.8" r="1.8"/><circle cx="900" cy="336.7" r="1.8"/><circle cx="906.2" cy="352.8" r="1.8"/><circle cx="898.9" cy="364.9" r="1.8"/><circle cx="905.2" cy="362.4" r="1.8"/><circle cx="901" cy="368.7" r="1.8"/><circle cx="917.7" cy="363.2" r="1.8"/><circle cx="913.5" cy="388.5" r="1.8"/><circle cx="918.7" cy="393.7" r="1.8"/><circle cx="910.4" cy="398.7" r="1.8"/><circle cx="917.7" cy="400.4" r="1.8"/><circle cx="908.3" cy="420.2" r="1.8"/><circle cx="913.5" cy="426.5" r="1.8"/><circle cx="913.5" cy="440.1" r="1.8"/></g>
<rect x="845.7" y="303.8" width="123.9" height="169.2" fill="none" stroke="#021502" stroke-width="1.2" opacity="0.8"/>
</g>
<g clip-path="url(#fc11)">
<rect x="973.8" y="302.8" width="124.4" height="170.4" fill="#022202"/>
<path d="M1102 340 L1048 478 L1102 478Z" fill="#0e4a0e" filter="url(#b3)" opacity="1"/>
<path d="M978 345 Q984 320 992 303" stroke="#0f4a0f" stroke-width="1.5" fill="none" filter="url(#b1)"/>
<ellipse cx="1037" cy="392" rx="13" ry="62" fill="#146a14" transform="rotate(-3 1037 392)" filter="url(#b3)" opacity="1"/>
<g filter="url(#b1)" fill="#35f53a"><circle cx="1033.3" cy="325.9" r="1.4"/><circle cx="1025.1" cy="350.3" r="1.5"/><circle cx="1033.5" cy="359.1" r="2.6"/><circle cx="1042.7" cy="368.5" r="2.0"/><circle cx="1027.6" cy="375.3" r="2.2"/><circle cx="1036" cy="380.2" r="2.0"/><circle cx="1043.3" cy="381.6" r="2.4"/><circle cx="1051.2" cy="394.6" r="1.4"/><circle cx="1032.2" cy="397.3" r="1.7"/><circle cx="1028.7" cy="401.4" r="1.9"/><circle cx="1032.9" cy="411.5" r="1.6"/><circle cx="1043.9" cy="414.6" r="2.8"/><circle cx="1027" cy="419.2" r="1.2"/><circle cx="1046" cy="425" r="1.4"/><circle cx="1031.4" cy="435.9" r="1.6"/><circle cx="1040.6" cy="457.8" r="1.7"/></g>
<rect x="974.3" y="303.3" width="123.4" height="169.4" fill="none" stroke="#021502" stroke-width="1.2" opacity="0.8"/>
</g>
<g clip-path="url(#fc12)">
<rect x="1102.2" y="302.8" width="124.6" height="170.4" fill="#032603"/>
<rect x="1090" y="290" width="50" height="190" fill="#0f520f" opacity="1" filter="url(#b10)"/>
<ellipse cx="1158" cy="400" rx="19" ry="70" fill="#176e17" transform="rotate(-6 1158 400)" filter="url(#b6)" opacity="1"/>
<g filter="url(#b1)" fill="#2cc82c"><circle cx="1149.8" cy="364.9" r="1.6"/><circle cx="1166.5" cy="379.5" r="1.6"/><circle cx="1155" cy="388.5" r="1.6"/><circle cx="1169.6" cy="395.2" r="1.4"/><circle cx="1161.3" cy="400.4" r="1.4"/><circle cx="1165.5" cy="406.3" r="1.5"/><circle cx="1151.9" cy="409.8" r="1.8"/><circle cx="1159.8" cy="425.9" r="1.8"/><circle cx="1173.8" cy="424.4" r="1.4"/><circle cx="1171.7" cy="439" r="1.2"/><circle cx="1163.4" cy="454.3" r="1.5"/><circle cx="1163.4" cy="459.9" r="1.5"/></g>
<rect x="1102.7" y="303.3" width="123.6" height="169.4" fill="none" stroke="#021502" stroke-width="1.2" opacity="0.8"/>
</g>
<text x="41.3" y="544.0" font-size="38" text-anchor="middle">C</text>
<path d="M161.3 536.7 V903.2 M152.7 903.2 H611.7" fill="none" stroke="#000" stroke-width="3.1"/>
<path d="M152.7 903.2 H161.3 M152.7 830.2 H161.3 M152.7 757.2 H161.3 M152.7 684.2 H161.3 M152.7 611.2 H161.3 M152.7 538.2 H161.3 M198.3 903.2 V913.7 M273.3 903.2 V913.7 M348.3 903.2 V913.7 M423.3 903.2 V913.7 M498.3 903.2 V913.7 M573.3 903.2 V913.7 " fill="none" stroke="#000" stroke-width="3.1"/>
<text x="149.7" y="911.7" font-size="24" text-anchor="end">0</text>
<text x="149.7" y="838.7" font-size="24" text-anchor="end">50</text>
<text x="149.7" y="765.7" font-size="24" text-anchor="end">100</text>
<text x="149.7" y="692.7" font-size="24" text-anchor="end">150</text>
<text x="149.7" y="619.7" font-size="24" text-anchor="end">200</text>
<text x="149.7" y="546.7" font-size="24" text-anchor="end">250</text>
<text x="196.7" y="941.0" font-size="24" text-anchor="middle">start</text>
<text x="273.3" y="941.0" font-size="24" text-anchor="middle">5</text>
<text x="348.3" y="941.0" font-size="24" text-anchor="middle">20</text>
<text x="423.3" y="941.0" font-size="24" text-anchor="middle">30</text>
<text x="498.3" y="941.0" font-size="24" text-anchor="middle">60</text>
<text x="573.3" y="941.0" font-size="24" text-anchor="middle">360</text>
<text x="628.6" y="941.0" font-size="24.02" text-anchor="middle">(min)</text>
<rect x="178" y="951.4" width="414.7" height="2.6" fill="#000"/>
<text x="387.1" y="984.8" font-size="24.35" text-anchor="middle">Dk (4 d), then transferred to Bc</text>
<text x="48.7" y="720.8" font-size="27" text-anchor="middle" fill="#0a520e" transform="rotate(-90 48.7 720.8)" textLength="246.6" lengthAdjust="spacingAndGlyphs">phyA-GFP/Histone 3</text>
<text x="73.8" y="722.5" font-size="26.3" text-anchor="middle" fill="#0a0ac6" transform="rotate(-90 73.8 722.5)" textLength="183.2" lengthAdjust="spacingAndGlyphs">phyA/Histone 3</text>
<text x="102.7" y="724.7" font-size="25.42" text-anchor="middle" transform="rotate(-90 102.7 724.7)">relative nuclear protein levels</text>
<path d="M273.3 576.7 V622.0 M269.0 576.7 h8.6 M269.0 622.0 h8.6 M348.3 621.7 V709.0 M344.0 621.7 h8.6 M344.0 709.0 h8.6 M423.3 740.7 V802.3 M419.0 740.7 h8.6 M419.0 802.3 h8.6 M498.3 746.7 V807.0 M494.0 746.7 h8.6 M494.0 807.0 h8.6 M573.3 714.3 V766.7 M569.0 714.3 h8.6 M569.0 766.7 h8.6 " fill="none" stroke="#0a0ac6" stroke-width="3.0"/>
<polyline points="198.3,757.2 273.3,599.5 348.3,666.0 423.3,772.5 498.3,776.9 573.3,740.8" fill="none" stroke="#0a0ac6" stroke-width="3.3" stroke-linejoin="round"/>
<rect x="193.3" y="752.2" width="10" height="10" fill="#0a0ac6"/>
<rect x="268.3" y="594.5" width="10" height="10" fill="#0a0ac6"/>
<rect x="343.3" y="661.0" width="10" height="10" fill="#0a0ac6"/>
<rect x="418.3" y="767.5" width="10" height="10" fill="#0a0ac6"/>
<rect x="493.3" y="771.9" width="10" height="10" fill="#0a0ac6"/>
<rect x="568.3" y="735.8" width="10" height="10" fill="#0a0ac6"/>
<path d="M273.3 651.0 V682.3 M269.0 651.0 h8.6 M269.0 682.3 h8.6 M348.3 660.7 V696.7 M344.0 660.7 h8.6 M344.0 696.7 h8.6 M423.3 748.3 V778.3 M419.0 748.3 h8.6 M419.0 778.3 h8.6 M498.3 739.0 V771.7 M494.0 739.0 h8.6 M494.0 771.7 h8.6 M573.3 754.0 V788.7 M569.0 754.0 h8.6 M569.0 788.7 h8.6 " fill="none" stroke="#0a520e" stroke-width="3.0"/>
<polyline points="198.3,757.2 273.3,666.7 348.3,679.2 423.3,764.5 498.3,755.4 573.3,771.5" fill="none" stroke="#0a520e" stroke-width="3.3" stroke-linejoin="round"/>
<circle cx="198.3" cy="757.2" r="5.0" fill="#0a520e"/>
<circle cx="273.3" cy="666.7" r="5.0" fill="#0a520e"/>
<circle cx="348.3" cy="679.2" r="5.0" fill="#0a520e"/>
<circle cx="423.3" cy="764.5" r="5.0" fill="#0a520e"/>
<circle cx="498.3" cy="755.4" r="5.0" fill="#0a520e"/>
<circle cx="573.3" cy="771.5" r="5.0" fill="#0a520e"/>
<path d="M393.3 579.3 H420.7" stroke="#0a520e" stroke-width="2.8"/>
<circle cx="407.0" cy="579.3" r="4.6" fill="#0a520e"/>
<text x="495.2" y="587.4" font-size="26.82" text-anchor="middle" style="font-style:italic;" fill="#0a520e">PHYA-GFP</text>
<path d="M395.7 620.7 H422.7" stroke="#0a0ac6" stroke-width="2.8"/>
<rect x="404.6" y="616.1" width="9.2" height="9.2" fill="#0a0ac6"/>
<text x="487.2" y="629.0" font-size="26.91" text-anchor="middle" style="font-style:italic;" fill="#0a0ac6">PHYA-OE</text>
<text x="273.3" y="578.5" font-size="25" text-anchor="middle" style="font-weight:normal;" stroke="#000" stroke-width="0.5">*</text>
<text x="272.0" y="656.0" font-size="25" text-anchor="middle" style="font-weight:normal;" stroke="#000" stroke-width="0.5">*</text>
<text x="347.3" y="625.0" font-size="25" text-anchor="middle" style="font-weight:normal;" stroke="#000" stroke-width="0.5">*</text>
<text x="358.3" y="667.5" font-size="25" text-anchor="middle" style="font-weight:normal;" stroke="#000" stroke-width="0.5">*</text>
<text x="640.5" y="544.0" font-size="38" text-anchor="middle">D</text>
<path d="M762.6 532.0 V897.7 M754.0 897.7 H1204.3" fill="none" stroke="#000" stroke-width="3.1"/>
<path d="M754.0 897.7 H762.6 M754.0 824.8 H762.6 M754.0 752.0 H762.6 M754.0 679.1 H762.6 M754.0 606.2 H762.6 M754.0 533.4 H762.6 M798.7 897.7 V908.2 M872.3 897.7 V908.2 M946.1 897.7 V908.2 M1019.8 897.7 V908.2 M1093.4 897.7 V908.2 M1167.0 897.7 V908.2 " fill="none" stroke="#000" stroke-width="3.1"/>
<text x="751.6" y="906.7" font-size="26" text-anchor="end">0</text>
<text x="751.6" y="833.8" font-size="26" text-anchor="end">100</text>
<text x="751.6" y="761.0" font-size="26" text-anchor="end">200</text>
<text x="751.6" y="688.1" font-size="26" text-anchor="end">300</text>
<text x="751.6" y="615.2" font-size="26" text-anchor="end">400</text>
<text x="751.6" y="542.4" font-size="26" text-anchor="end">500</text>
<text x="800.0" y="939.6" font-size="24" text-anchor="middle">start</text>
<text x="872.3" y="939.6" font-size="24" text-anchor="middle">6</text>
<text x="946.1" y="939.6" font-size="24" text-anchor="middle">12</text>
<text x="1019.8" y="939.6" font-size="24" text-anchor="middle">24</text>
<text x="1093.4" y="939.6" font-size="24" text-anchor="middle">48</text>
<text x="1167.0" y="939.6" font-size="24" text-anchor="middle">72</text>
<text x="1209.3" y="939.6" font-size="24.6" text-anchor="middle">(h)</text>
<rect x="778.7" y="950.4" width="406.6" height="2.6" fill="#000"/>
<text x="984.4" y="984.2" font-size="24.32" text-anchor="middle">Dk (4 d), then transferred to Bc</text>
<text x="653.2" y="714.2" font-size="27" text-anchor="middle" fill="#0a520e" transform="rotate(-90 653.2 714.2)" textLength="246.6" lengthAdjust="spacingAndGlyphs">phyB-GFP/Histone 3</text>
<text x="676.6" y="714.1" font-size="26.3" text-anchor="middle" fill="#0a0ac6" transform="rotate(-90 676.6 714.1)" textLength="183.3" lengthAdjust="spacingAndGlyphs">phyB/Histone 3</text>
<text x="702.0" y="715.3" font-size="25.42" text-anchor="middle" transform="rotate(-90 702.0 715.3)">relative nuclear protein levels</text>
<path d="M872.3 721.3 V771.7 M868.0 721.3 h8.6 M868.0 771.7 h8.6 M946.1 744.3 V799.3 M941.8 744.3 h8.6 M941.8 799.3 h8.6 M1019.8 758.3 V788.7 M1015.5 758.3 h8.6 M1015.5 788.7 h8.6 M1093.4 668.0 V718.0 M1089.1 668.0 h8.6 M1089.1 718.0 h8.6 M1167.0 554.0 V589.3 M1162.7 554.0 h8.6 M1162.7 589.3 h8.6 " fill="none" stroke="#0a0ac6" stroke-width="3.0"/>
<polyline points="798.7,824.8 872.3,746.1 946.1,772.4 1019.8,774.7 1093.4,681.0 1167.0,571.7" fill="none" stroke="#0a0ac6" stroke-width="3.3" stroke-linejoin="round"/>
<rect x="793.7" y="819.8" width="10" height="10" fill="#0a0ac6"/>
<rect x="867.3" y="741.1" width="10" height="10" fill="#0a0ac6"/>
<rect x="941.1" y="767.4" width="10" height="10" fill="#0a0ac6"/>
<rect x="1014.8" y="769.7" width="10" height="10" fill="#0a0ac6"/>
<rect x="1088.4" y="676.0" width="10" height="10" fill="#0a0ac6"/>
<rect x="1162.0" y="566.7" width="10" height="10" fill="#0a0ac6"/>
<path d="M872.3 752.3 V778.3 M868.0 752.3 h8.6 M868.0 778.3 h8.6 M946.1 748.3 V783.3 M941.8 748.3 h8.6 M941.8 783.3 h8.6 M1019.8 675.0 V758.3 M1015.5 675.0 h8.6 M1015.5 758.3 h8.6 M1093.4 621.7 V666.0 M1089.1 621.7 h8.6 M1089.1 666.0 h8.6 M1167.0 619.3 V644.0 M1162.7 619.3 h8.6 M1162.7 644.0 h8.6 " fill="none" stroke="#0a520e" stroke-width="3.0"/>
<polyline points="798.7,824.8 872.3,764.7 946.1,766.7 1019.8,716.7 1093.4,644.0 1167.0,632.5" fill="none" stroke="#0a520e" stroke-width="3.3" stroke-linejoin="round"/>
<circle cx="798.7" cy="824.8" r="5.0" fill="#0a520e"/>
<circle cx="872.3" cy="764.7" r="5.0" fill="#0a520e"/>
<circle cx="946.1" cy="766.7" r="5.0" fill="#0a520e"/>
<circle cx="1019.8" cy="716.7" r="5.0" fill="#0a520e"/>
<circle cx="1093.4" cy="644.0" r="5.0" fill="#0a520e"/>
<circle cx="1167.0" cy="632.5" r="5.0" fill="#0a520e"/>
<path d="M783.3 568 H809.3" stroke="#0a520e" stroke-width="2.8"/>
<circle cx="796.3" cy="568" r="4.6" fill="#0a520e"/>
<text x="884.5" y="575.4" font-size="26.31" text-anchor="middle" style="font-style:italic;" fill="#0a520e">PHYB-GFP</text>
<path d="M785.7 608.7 H811.7" stroke="#0a0ac6" stroke-width="2.8"/>
<rect x="794.1" y="604.1" width="9.2" height="9.2" fill="#0a0ac6"/>
<text x="877.8" y="617.0" font-size="26.46" text-anchor="middle" style="font-style:italic;" fill="#0a0ac6">PHYB-OE</text>
<text x="1165.3" y="556.8" font-size="25" text-anchor="middle" style="font-weight:normal;" stroke="#000" stroke-width="0.5">*</text>
<text x="1164.7" y="621.8" font-size="25" text-anchor="middle" style="font-weight:normal;" stroke="#000" stroke-width="0.5">*</text>
<text x="1091.9" y="623.5" font-size="25" text-anchor="middle" style="font-weight:normal;" stroke="#000" stroke-width="0.5">*</text>
<text x="1100.0" y="668.1" font-size="25" text-anchor="middle" style="font-weight:normal;" stroke="#000" stroke-width="0.5">*</text>
<text x="38.9" y="1041.7" font-size="38" text-anchor="middle">E</text>
<path d="M144.7 1036.2 V1373.3 M132.3 1373.3 H616.7" fill="none" stroke="#000" stroke-width="3.1"/>
<path d="M132.3 1373.3 H144.7 M132.3 1261.4 H144.7 M132.3 1149.5 H144.7 M132.3 1037.6 H144.7 M203.7 1373.3 V1387.5 M321.5 1373.3 V1387.5 M439.0 1373.3 V1387.5 M556.7 1373.3 V1387.5 " fill="none" stroke="#000" stroke-width="3.1"/>
<text x="120.8" y="1382.5" font-size="25.5" text-anchor="middle" textLength="13.6" lengthAdjust="spacingAndGlyphs">0</text>
<text x="107.9" y="1270.6" font-size="25.5" text-anchor="middle" textLength="39.5" lengthAdjust="spacingAndGlyphs">100</text>
<text x="107.9" y="1158.7" font-size="25.5" text-anchor="middle" textLength="39.5" lengthAdjust="spacingAndGlyphs">200</text>
<text x="107.9" y="1046.8" font-size="25.5" text-anchor="middle" textLength="39.5" lengthAdjust="spacingAndGlyphs">300</text>
<text x="203.8" y="1431.4" font-size="23.6" text-anchor="middle" textLength="30.4" lengthAdjust="spacingAndGlyphs">Dk</text>
<text x="324.5" y="1413.0" font-size="23.6" text-anchor="middle" textLength="35.8" lengthAdjust="spacingAndGlyphs">2.5</text>
<text x="438.0" y="1413.0" font-size="23.6" text-anchor="middle" textLength="47.4" lengthAdjust="spacingAndGlyphs">13.2</text>
<text x="555.5" y="1413.0" font-size="23.6" text-anchor="middle" textLength="47.0" lengthAdjust="spacingAndGlyphs">55.0</text>
<rect x="284" y="1421.6" width="315" height="2.2" fill="#000"/>
<text x="293.0" y="1452.3" font-size="23.4" textLength="301.0" lengthAdjust="spacingAndGlyphs">Blue flence rate (µmol m<tspan dy="-8" font-size="13.5">-2</tspan><tspan dy="8"> s</tspan><tspan dy="-8" font-size="13.5">-1</tspan><tspan dy="8">)</tspan></text>
<text x="48.3" y="1206.3" font-size="24.2" text-anchor="middle" transform="rotate(-90 48.3 1206.3)" textLength="262.2" lengthAdjust="spacingAndGlyphs">phyA/B-GFP/Myc-SPA1</text>
<text x="76.6" y="1206.0" font-size="24.2" text-anchor="middle" transform="rotate(-90 76.6 1206.0)" textLength="248.1" lengthAdjust="spacingAndGlyphs">relative protein level</text>
<path d="M203.7 1250.0 V1327.7 M197.5 1250.0 h12.4 M197.5 1327.7 h12.4 M321.5 1245.3 V1276.7 M315.3 1245.3 h12.4 M315.3 1276.7 h12.4 M439.0 1113.3 V1194.3 M432.8 1113.3 h12.4 M432.8 1194.3 h12.4 M556.7 1132.7 V1173.3 M550.5 1132.7 h12.4 M550.5 1173.3 h12.4 " fill="none" stroke="#0b7f0f" stroke-width="2.8"/>
<polyline points="203.7,1289.4 321.5,1261.0 439.0,1153.6 556.7,1153.3" fill="none" stroke="#0b7f0f" stroke-width="3.0" stroke-linejoin="round"/>
<rect x="197.1" y="1282.8" width="13.2" height="13.2" fill="#0b7f0f"/>
<rect x="314.9" y="1254.4" width="13.2" height="13.2" fill="#0b7f0f"/>
<rect x="432.4" y="1147.0" width="13.2" height="13.2" fill="#0b7f0f"/>
<rect x="550.1" y="1146.7" width="13.2" height="13.2" fill="#0b7f0f"/>
<path d="M321.5 1102.3 V1143.3 M315.3 1102.3 h12.4 M315.3 1143.3 h12.4 M439.0 1255.3 V1312.3 M432.8 1255.3 h12.4 M432.8 1312.3 h12.4 M556.7 1268.3 V1299.3 M550.5 1268.3 h12.4 M550.5 1299.3 h12.4 " fill="none" stroke="#1010fa" stroke-width="2.8"/>
<polyline points="203.7,1261.4 321.5,1122.6 439.0,1284.3 556.7,1284.3" fill="none" stroke="#1010fa" stroke-width="3.0" stroke-linejoin="round"/>
<circle cx="203.7" cy="1261.4" r="7.0" fill="#1010fa"/>
<circle cx="321.5" cy="1122.6" r="7.0" fill="#1010fa"/>
<circle cx="439.0" cy="1284.3" r="7.0" fill="#1010fa"/>
<circle cx="556.7" cy="1284.3" r="7.0" fill="#1010fa"/>
<path d="M155.7 1043.3 H188.3" stroke="#1010fa" stroke-width="3.0"/>
<circle cx="172.0" cy="1043.3" r="6.8" fill="#1010fa"/>
<text x="315.0" y="1051.0" font-size="23.2" text-anchor="middle" style="font-style:italic;" fill="#1010fa" textLength="223.4" lengthAdjust="spacingAndGlyphs">PHYA-GFP/Myc-SPA1</text>
<path d="M155.7 1073.3 H188.3" stroke="#0b7f0f" stroke-width="3.0"/>
<rect x="165.4" y="1066.7" width="13.2" height="13.2" fill="#0b7f0f"/>
<text x="315.0" y="1081.0" font-size="23.2" text-anchor="middle" style="font-style:italic;" fill="#0b7f0f" textLength="223.4" lengthAdjust="spacingAndGlyphs">PHYB-GFP/Myc-SPA1</text>
<text x="321.7" y="1248.8" font-size="33" text-anchor="middle">*</text>
<text x="439.3" y="1117.2" font-size="33" text-anchor="middle">*</text>
<text x="557.7" y="1137.2" font-size="33" text-anchor="middle">*</text>
<text x="645.2" y="1041.7" font-size="38" text-anchor="middle">F</text>
<path d="M742.4 1038.5 V1367.3 M729.2 1367.3 H1226.7" fill="none" stroke="#000" stroke-width="3.1"/>
<path d="M729.2 1367.3 H742.4 M729.2 1285.5 H742.4 M729.2 1203.6 H742.4 M729.2 1121.8 H742.4 M729.2 1040.0 H742.4 M791.0 1367.3 V1380.0 M887.3 1367.3 V1380.0 M984.0 1367.3 V1380.0 M1080.6 1367.3 V1380.0 M1177.3 1367.3 V1380.0 " fill="none" stroke="#000" stroke-width="3.1"/>
<text x="718.8" y="1376.5" font-size="25.5" text-anchor="middle" textLength="13.9" lengthAdjust="spacingAndGlyphs">0</text>
<text x="705.7" y="1294.7" font-size="25.5" text-anchor="middle" textLength="40.1" lengthAdjust="spacingAndGlyphs">100</text>
<text x="705.7" y="1212.8" font-size="25.5" text-anchor="middle" textLength="40.1" lengthAdjust="spacingAndGlyphs">200</text>
<text x="705.7" y="1131.0" font-size="25.5" text-anchor="middle" textLength="40.1" lengthAdjust="spacingAndGlyphs">300</text>
<text x="705.7" y="1049.2" font-size="25.5" text-anchor="middle" textLength="40.1" lengthAdjust="spacingAndGlyphs">400</text>
<text x="797.0" y="1409.0" font-size="24" text-anchor="middle">start</text>
<text x="888.0" y="1409.0" font-size="24" text-anchor="middle">0.5</text>
<text x="984.0" y="1409.0" font-size="24" text-anchor="middle">1</text>
<text x="1081.0" y="1409.0" font-size="24" text-anchor="middle">3</text>
<text x="1177.6" y="1409.0" font-size="24" text-anchor="middle">6</text>
<text x="1213.2" y="1409.0" font-size="23.78" text-anchor="middle">(h)</text>
<rect x="771" y="1420" width="455.7" height="2" fill="#000"/>
<text x="986.4" y="1450.4" font-size="24.46" text-anchor="middle">Dk (4 d), then transferred to Bc</text>
<text x="643.6" y="1204.5" font-size="24.2" text-anchor="middle" transform="rotate(-90 643.6 1204.5)" textLength="255.9" lengthAdjust="spacingAndGlyphs">phyA/B-GFP/Myc-SPA1</text>
<text x="672.4" y="1204.0" font-size="24.2" text-anchor="middle" transform="rotate(-90 672.4 1204.0)" textLength="241.5" lengthAdjust="spacingAndGlyphs">relative protein level</text>
<path d="M887.3 1275.0 V1304.3 M881.1 1275.0 h12.4 M881.1 1304.3 h12.4 M984.0 1256.7 V1285.7 M977.8 1256.7 h12.4 M977.8 1285.7 h12.4 M1080.6 1080.7 V1184.0 M1074.4 1080.7 h12.4 M1074.4 1184.0 h12.4 M1177.3 1090.3 V1202.0 M1171.1 1090.3 h12.4 M1171.1 1202.0 h12.4 " fill="none" stroke="#0b7f0f" stroke-width="2.8"/>
<polyline points="791.0,1285.5 887.3,1290.0 984.0,1271.6 1080.6,1132.9 1177.3,1146.0" fill="none" stroke="#0b7f0f" stroke-width="3.0" stroke-linejoin="round"/>
<rect x="784.4" y="1278.9" width="13.2" height="13.2" fill="#0b7f0f"/>
<rect x="880.7" y="1283.4" width="13.2" height="13.2" fill="#0b7f0f"/>
<rect x="977.4" y="1265.0" width="13.2" height="13.2" fill="#0b7f0f"/>
<rect x="1074.0" y="1126.3" width="13.2" height="13.2" fill="#0b7f0f"/>
<rect x="1170.7" y="1139.4" width="13.2" height="13.2" fill="#0b7f0f"/>
<path d="M887.3 1142.7 V1171.7 M881.1 1142.7 h12.4 M881.1 1171.7 h12.4 M984.0 1155.0 V1203.3 M977.8 1155.0 h12.4 M977.8 1203.3 h12.4 M1080.6 1237.3 V1309.0 M1074.4 1237.3 h12.4 M1074.4 1309.0 h12.4 M1177.3 1244.3 V1282.7 M1171.1 1244.3 h12.4 M1171.1 1282.7 h12.4 " fill="none" stroke="#1010fa" stroke-width="2.8"/>
<polyline points="791.0,1285.5 887.3,1156.7 984.0,1179.3 1080.6,1273.3 1177.3,1263.4" fill="none" stroke="#1010fa" stroke-width="3.0" stroke-linejoin="round"/>
<circle cx="791.0" cy="1285.5" r="7.0" fill="#1010fa"/>
<circle cx="887.3" cy="1156.7" r="7.0" fill="#1010fa"/>
<circle cx="984.0" cy="1179.3" r="7.0" fill="#1010fa"/>
<circle cx="1080.6" cy="1273.3" r="7.0" fill="#1010fa"/>
<circle cx="1177.3" cy="1263.4" r="7.0" fill="#1010fa"/>
<path d="M766.2 1054 H799.1" stroke="#1010fa" stroke-width="3.0"/>
<circle cx="782.7" cy="1054" r="6.8" fill="#1010fa"/>
<text x="925.3" y="1061.7" font-size="23.2" text-anchor="middle" style="font-style:italic;" fill="#1010fa" textLength="223.4" lengthAdjust="spacingAndGlyphs">PHYA-GFP/Myc-SPA1</text>
<path d="M766.2 1084 H799.1" stroke="#0b7f0f" stroke-width="3.0"/>
<rect x="776.1" y="1077.4" width="13.2" height="13.2" fill="#0b7f0f"/>
<text x="925.3" y="1091.7" font-size="23.2" text-anchor="middle" style="font-style:italic;" fill="#0b7f0f" textLength="223.4" lengthAdjust="spacingAndGlyphs">PHYB-GFP/Myc-SPA1</text>
<text x="888.3" y="1280.5" font-size="33" text-anchor="middle">*</text>
<text x="984.0" y="1262.2" font-size="33" text-anchor="middle">*</text>
<text x="1082.0" y="1083.8" font-size="33" text-anchor="middle">*</text>
<text x="1177.3" y="1095.5" font-size="33" text-anchor="middle">*</text>
<text x="40.9" y="1504.0" font-size="38" text-anchor="middle">G</text>
<rect x="33.0" y="1516.6" width="394.0" height="381.4" fill="#e4e4e4" stroke="#151515" stroke-width="2.2"/>
<rect x="436.0" y="1516.6" width="394.2" height="381.4" fill="#dde9f6" stroke="#151515" stroke-width="2.2"/>
<rect x="839.0" y="1516.6" width="399.2" height="381.4" fill="#66ccff" stroke="#151515" stroke-width="2.2"/>
<text x="242.5" y="1509.0" font-size="17.74" text-anchor="middle" textLength="86.1" lengthAdjust="spacingAndGlyphs">Darkness</text>
<text x="633.1" y="1507.7" font-size="18.15" text-anchor="middle" fill="#2e62f0" textLength="211.4" lengthAdjust="spacingAndGlyphs">Early &amp; weak blue light</text>
<text x="1044.7" y="1506.7" font-size="18.13" text-anchor="middle" fill="#1a1ac2" textLength="285.1" lengthAdjust="spacingAndGlyphs">Sustainable &amp; strong blue light</text>
<text x="369.5" y="1541.7" font-size="16.11" text-anchor="middle" textLength="88.6" lengthAdjust="spacingAndGlyphs">Cytoplasm</text>
<text x="761.8" y="1543.3" font-size="16.36" text-anchor="middle" textLength="90.0" lengthAdjust="spacingAndGlyphs">Cytoplasm</text>
<text x="1169.7" y="1543.3" font-size="16.42" text-anchor="middle" textLength="90.3" lengthAdjust="spacingAndGlyphs">Cytoplasm</text>
<text x="68.5" y="1537.7" font-size="14.44" text-anchor="middle" fill="#1a1af0" textLength="39.3" lengthAdjust="spacingAndGlyphs">phyA</text>
<text x="131.5" y="1537.7" font-size="14.44" text-anchor="middle" fill="#4f8a2c" textLength="39.3" lengthAdjust="spacingAndGlyphs">phyB</text>
<ellipse cx="50.0" cy="1576.5" rx="7.9" ry="22.8" fill="#2e75b6" stroke="#1f2f3f" stroke-width="0.8" transform="rotate(0 50.0 1576.5)"/>
<ellipse cx="90.7" cy="1577.5" rx="8.2" ry="23.8" fill="#1f7acc" stroke="#1f2f3f" stroke-width="0.8" transform="rotate(0 90.7 1577.5)"/>
<path d="M65.3 1569.3 C66.3 1560.3 67.4 1551.2 64.6 1549.7 C62.8 1549.1 59.0 1555.5 53.5 1564.5" fill="none" stroke="#6a6a6a" stroke-width="1.2"/>
<path d="M78.8 1569.3 C77.8 1560.3 77.7 1551.2 80.7 1549.7 C82.7 1549.3 85.7 1553.5 90.2 1559.5" fill="none" stroke="#6a6a6a" stroke-width="1.2"/>
<rect x="53.3" y="1568.3" width="17.0" height="60.0" rx="8.5" ry="8.9" fill="#9dc3e6" stroke="#1a1a1a" stroke-width="1"/>
<rect x="72.0" y="1568.3" width="17.0" height="60.0" rx="8.5" ry="8.9" fill="#9dc3e6" stroke="#1a1a1a" stroke-width="1"/>
<ellipse cx="110.0" cy="1579.3" rx="7.9" ry="22.8" fill="#548235" stroke="#1f2f3f" stroke-width="0.8" transform="rotate(0 110.0 1579.3)"/>
<ellipse cx="150.7" cy="1580.3" rx="8.2" ry="23.8" fill="#548235" stroke="#1f2f3f" stroke-width="0.8" transform="rotate(0 150.7 1580.3)"/>
<path d="M124.5 1569.3 C125.5 1560.3 126.5 1551.2 123.7 1549.7 C121.9 1549.1 119.0 1558.3 113.5 1567.3" fill="none" stroke="#6a6a6a" stroke-width="1.2"/>
<path d="M137.7 1569.3 C136.7 1560.3 136.6 1551.2 139.6 1549.7 C141.6 1549.3 145.7 1556.3 150.2 1562.3" fill="none" stroke="#6a6a6a" stroke-width="1.2"/>
<rect x="112.7" y="1568.3" width="16.6" height="60.0" rx="8.3" ry="8.7" fill="#a9d18e" stroke="#1a1a1a" stroke-width="1"/>
<rect x="131.1" y="1568.3" width="16.6" height="60.0" rx="8.3" ry="8.7" fill="#a9d18e" stroke="#1a1a1a" stroke-width="1"/>
<text x="474.6" y="1535.7" font-size="14.55" text-anchor="middle" fill="#4f8a2c" textLength="39.6" lengthAdjust="spacingAndGlyphs">phyB</text>
<ellipse cx="460.6" cy="1574.0" rx="7.9" ry="22.8" fill="#548235" stroke="#1f2f3f" stroke-width="0.8" transform="rotate(0 460.6 1574.0)"/>
<ellipse cx="500.3" cy="1575.0" rx="8.2" ry="23.8" fill="#548235" stroke="#1f2f3f" stroke-width="0.8" transform="rotate(0 500.3 1575.0)"/>
<path d="M474.3 1563.7 C475.3 1554.7 476.4 1545.6 473.6 1544.1 C471.8 1543.5 469.6 1553.0 464.1 1562.0" fill="none" stroke="#6a6a6a" stroke-width="1.2"/>
<path d="M487.8 1563.7 C486.8 1554.7 486.7 1545.6 489.7 1544.1 C491.7 1543.7 495.3 1551.0 499.8 1557.0" fill="none" stroke="#6a6a6a" stroke-width="1.2"/>
<rect x="462.3" y="1562.7" width="16.9" height="60.0" rx="8.5" ry="8.9" fill="#a9d18e" stroke="#1a1a1a" stroke-width="1"/>
<rect x="481.1" y="1562.7" width="16.9" height="60.0" rx="8.5" ry="8.9" fill="#a9d18e" stroke="#1a1a1a" stroke-width="1"/>
<ellipse cx="234.3" cy="1726" rx="134.2" ry="124.5" fill="#afabab" stroke="#111" stroke-width="1.3"/>
<ellipse cx="640" cy="1714.2" rx="135.3" ry="127.5" fill="none" stroke="#111" stroke-width="1.3"/>
<ellipse cx="1037.7" cy="1714.5" rx="135.7" ry="127.8" fill="none" stroke="#111" stroke-width="1.3"/>
<text x="238.3" y="1628.3" font-size="14.5" text-anchor="middle" fill="#111" textLength="60.9" lengthAdjust="spacingAndGlyphs">Nucleus</text>
<text x="649.4" y="1610.7" font-size="14.67" text-anchor="middle" fill="#111" textLength="61.6" lengthAdjust="spacingAndGlyphs">Nucleus</text>
<text x="1039.0" y="1610.7" font-size="14.64" text-anchor="middle" fill="#111" textLength="61.5" lengthAdjust="spacingAndGlyphs">Nucleus</text>
<path d="M182.6 1687.3 C182.6 1684.2 184.1 1680.0 185.7 1677.0 C187.3 1674.0 188.6 1671.4 192.0 1669.2 C195.4 1667.0 201.7 1664.6 206.2 1663.6 C210.7 1662.6 215.6 1662.7 218.8 1663.3 C222.0 1663.9 224.7 1665.3 225.6 1667.1 C226.5 1668.9 225.2 1671.5 224.3 1673.9 C223.4 1676.3 221.3 1678.9 220.4 1681.3 C219.5 1683.7 218.5 1685.5 218.8 1688.1 C219.1 1690.7 220.2 1694.0 222.0 1696.7 C223.8 1699.5 227.1 1702.4 229.8 1704.6 C232.5 1706.8 238.2 1708.1 238.0 1709.7 C237.8 1711.3 231.5 1713.4 228.3 1714.4 C225.1 1715.5 222.2 1716.5 218.8 1716.0 C215.4 1715.5 212.0 1713.3 207.8 1711.2 C203.6 1709.1 197.3 1706.0 193.6 1703.4 C189.9 1700.8 187.2 1698.2 185.4 1695.5 C183.6 1692.8 182.6 1690.4 182.6 1687.3Z" fill="#c55a11" stroke="#3a2a10" stroke-width="0.8"/>
<ellipse cx="255" cy="1690" rx="36.7" ry="20.7" fill="#c00000" stroke="#3a0a0a" stroke-width="0.8"/>
<text x="257.5" y="1695.4" font-size="14.59" text-anchor="middle" fill="#ffff00" textLength="42.5" lengthAdjust="spacingAndGlyphs">COP1</text>
<text x="203.9" y="1679.4" font-size="10" text-anchor="middle" fill="#33ee33" transform="rotate(-32 203.9 1679.4)">NT545</text>
<text x="211.3" y="1694.2" font-size="10" text-anchor="middle" fill="#33ee33" transform="rotate(0 211.3 1694.2)">CC</text>
<text x="208.7" y="1709.0" font-size="10" text-anchor="middle" fill="#33ee33" transform="rotate(26 208.7 1709.0)">CT509</text>
<ellipse cx="240" cy="1730.3" rx="26.7" ry="21.2" fill="#ffff00" stroke="#222" stroke-width="0.9"/>
<text x="242.2" y="1734.8" font-size="11.59" text-anchor="middle" fill="#111" textLength="45.0" lengthAdjust="spacingAndGlyphs">HY5 etc</text>
<text x="187.5" y="1726.7" font-size="14.45" text-anchor="middle" fill="#ff1010" textLength="39.3" lengthAdjust="spacingAndGlyphs">SPA1</text>
<path d="M218.3 1745 L199 1760.4" stroke="#111" stroke-width="2" stroke-dasharray="2.2 2" fill="none"/>
<path d="M193.6 1764.6 L198.2 1756.6 L202.6 1762.2Z" fill="#111"/>
<text x="198.8" y="1775.7" font-size="11.68" text-anchor="middle" fill="#111" textLength="71.7" lengthAdjust="spacingAndGlyphs">Degradation</text>
<rect x="166.1" y="1795.3" width="131.0" height="22.7" fill="#101010"/>
<g clip-path="url(#dna166)" fill="none" stroke-linecap="round">
<path d="M173.7 1812.7 L176.9 1800.6 M177.3 1812.9 L180.5 1800.4 M188.1 1801.5 L191.3 1811.8 M195.3 1801.9 L198.5 1811.4 M206.1 1813.1 L209.3 1800.2 M209.7 1812.5 L212.9 1800.8 M220.5 1800.9 L223.7 1812.4 M227.7 1802.8 L230.9 1810.5 M238.5 1813.2 L241.7 1800.1 M242.1 1811.8 L245.3 1801.5 M249.3 1803.3 L252.5 1810.0 M252.9 1800.4 L256.1 1812.9 M260.1 1803.8 L263.3 1809.5 M270.9 1813.2 L274.1 1800.1 M274.5 1811.0 L277.7 1802.3 M281.7 1802.3 L284.9 1811.0 M285.3 1800.1 L288.5 1813.2 " stroke="#d8241c" stroke-width="1.1"/>
<path d="M170.1 1809.5 L173.3 1803.8 M180.9 1810.0 L184.1 1803.3 M191.7 1800.1 L194.9 1813.2 M202.5 1810.5 L205.7 1802.8 M213.3 1809.0 L216.5 1804.3 M224.1 1800.2 L227.3 1813.1 M234.9 1811.4 L238.1 1801.9 M256.5 1800.6 L259.7 1812.7 M267.3 1812.1 L270.5 1801.2 M288.9 1801.1 L292.1 1812.2 " stroke="#e07a18" stroke-width="1.1"/>
<polyline points="130.1,1798.9 131.2,1799.1 132.3,1799.7 133.5,1800.6 134.6,1801.8 135.7,1803.3 136.8,1804.9 138.0,1806.7 139.1,1808.4 140.2,1810.0 141.3,1811.5 142.5,1812.7 143.6,1813.6 144.7,1814.2 145.8,1814.4" stroke="#18336e" stroke-width="2.2"/>
<polyline points="130.1,1814.4 131.2,1814.2 132.3,1813.6 133.5,1812.7 134.6,1811.5 135.7,1810.0 136.8,1808.4 138.0,1806.7 139.1,1804.9 140.2,1803.3 141.3,1801.8 142.5,1800.6 143.6,1799.7 144.7,1799.1 145.8,1798.9" stroke="#f23aa8" stroke-width="3.6"/>
<polyline points="130.1,1814.4 131.2,1814.2 132.3,1813.6 133.5,1812.7 134.6,1811.5 135.7,1810.0 136.8,1808.4 138.0,1806.7 139.1,1804.9 140.2,1803.3 141.3,1801.8 142.5,1800.6 143.6,1799.7 144.7,1799.1 145.8,1798.9" stroke="#ffb8e4" stroke-width="1.2"/>
<polyline points="145.8,1798.9 147.0,1799.1 148.1,1799.7 149.2,1800.6 150.3,1801.8 151.5,1803.3 152.6,1804.9 153.7,1806.7 154.8,1808.4 156.0,1810.0 157.1,1811.5 158.2,1812.7 159.3,1813.6 160.5,1814.2 161.6,1814.4" stroke="#8a2062" stroke-width="2.2"/>
<polyline points="145.8,1814.4 147.0,1814.2 148.1,1813.6 149.2,1812.7 150.3,1811.5 151.5,1810.0 152.6,1808.4 153.7,1806.7 154.8,1804.9 156.0,1803.3 157.1,1801.8 158.2,1800.6 159.3,1799.7 160.5,1799.1 161.6,1798.9" stroke="#3f72c0" stroke-width="3.6"/>
<polyline points="145.8,1814.4 147.0,1814.2 148.1,1813.6 149.2,1812.7 150.3,1811.5 151.5,1810.0 152.6,1808.4 153.7,1806.7 154.8,1804.9 156.0,1803.3 157.1,1801.8 158.2,1800.6 159.3,1799.7 160.5,1799.1 161.6,1798.9" stroke="#a8ccf4" stroke-width="1.2"/>
<polyline points="161.6,1798.9 162.7,1799.1 163.8,1799.7 165.0,1800.6 166.1,1801.8 167.2,1803.3 168.3,1804.9 169.5,1806.7 170.6,1808.4 171.7,1810.0 172.8,1811.5 174.0,1812.7 175.1,1813.6 176.2,1814.2 177.3,1814.4" stroke="#18336e" stroke-width="2.2"/>
<polyline points="161.6,1814.4 162.7,1814.2 163.8,1813.6 165.0,1812.7 166.1,1811.5 167.2,1810.0 168.3,1808.4 169.5,1806.7 170.6,1804.9 171.7,1803.3 172.8,1801.8 174.0,1800.6 175.1,1799.7 176.2,1799.1 177.3,1798.9" stroke="#f23aa8" stroke-width="3.6"/>
<polyline points="161.6,1814.4 162.7,1814.2 163.8,1813.6 165.0,1812.7 166.1,1811.5 167.2,1810.0 168.3,1808.4 169.5,1806.7 170.6,1804.9 171.7,1803.3 172.8,1801.8 174.0,1800.6 175.1,1799.7 176.2,1799.1 177.3,1798.9" stroke="#ffb8e4" stroke-width="1.2"/>
<polyline points="177.3,1798.9 178.5,1799.1 179.6,1799.7 180.7,1800.6 181.8,1801.8 183.0,1803.3 184.1,1804.9 185.2,1806.7 186.3,1808.4 187.5,1810.0 188.6,1811.5 189.7,1812.7 190.8,1813.6 192.0,1814.2 193.1,1814.4" stroke="#8a2062" stroke-width="2.2"/>
<polyline points="177.3,1814.4 178.5,1814.2 179.6,1813.6 180.7,1812.7 181.8,1811.5 183.0,1810.0 184.1,1808.4 185.2,1806.7 186.3,1804.9 187.5,1803.3 188.6,1801.8 189.7,1800.6 190.8,1799.7 192.0,1799.1 193.1,1798.9" stroke="#3f72c0" stroke-width="3.6"/>
<polyline points="177.3,1814.4 178.5,1814.2 179.6,1813.6 180.7,1812.7 181.8,1811.5 183.0,1810.0 184.1,1808.4 185.2,1806.7 186.3,1804.9 187.5,1803.3 188.6,1801.8 189.7,1800.6 190.8,1799.7 192.0,1799.1 193.1,1798.9" stroke="#a8ccf4" stroke-width="1.2"/>
<polyline points="193.1,1798.9 194.2,1799.1 195.3,1799.7 196.5,1800.6 197.6,1801.8 198.7,1803.3 199.8,1804.9 201.0,1806.7 202.1,1808.4 203.2,1810.0 204.3,1811.5 205.5,1812.7 206.6,1813.6 207.7,1814.2 208.8,1814.4" stroke="#18336e" stroke-width="2.2"/>
<polyline points="193.1,1814.4 194.2,1814.2 195.3,1813.6 196.5,1812.7 197.6,1811.5 198.7,1810.0 199.8,1808.4 201.0,1806.7 202.1,1804.9 203.2,1803.3 204.3,1801.8 205.5,1800.6 206.6,1799.7 207.7,1799.1 208.8,1798.9" stroke="#f23aa8" stroke-width="3.6"/>
<polyline points="193.1,1814.4 194.2,1814.2 195.3,1813.6 196.5,1812.7 197.6,1811.5 198.7,1810.0 199.8,1808.4 201.0,1806.7 202.1,1804.9 203.2,1803.3 204.3,1801.8 205.5,1800.6 206.6,1799.7 207.7,1799.1 208.8,1798.9" stroke="#ffb8e4" stroke-width="1.2"/>
<polyline points="208.8,1798.9 210.0,1799.1 211.1,1799.7 212.2,1800.6 213.3,1801.8 214.5,1803.3 215.6,1804.9 216.7,1806.7 217.8,1808.4 219.0,1810.0 220.1,1811.5 221.2,1812.7 222.3,1813.6 223.5,1814.2 224.6,1814.4" stroke="#8a2062" stroke-width="2.2"/>
<polyline points="208.8,1814.4 210.0,1814.2 211.1,1813.6 212.2,1812.7 213.3,1811.5 214.5,1810.0 215.6,1808.4 216.7,1806.7 217.8,1804.9 219.0,1803.3 220.1,1801.8 221.2,1800.6 222.3,1799.7 223.5,1799.1 224.6,1798.9" stroke="#3f72c0" stroke-width="3.6"/>
<polyline points="208.8,1814.4 210.0,1814.2 211.1,1813.6 212.2,1812.7 213.3,1811.5 214.5,1810.0 215.6,1808.4 216.7,1806.7 217.8,1804.9 219.0,1803.3 220.1,1801.8 221.2,1800.6 222.3,1799.7 223.5,1799.1 224.6,1798.9" stroke="#a8ccf4" stroke-width="1.2"/>
<polyline points="224.6,1798.9 225.7,1799.1 226.8,1799.7 228.0,1800.6 229.1,1801.8 230.2,1803.3 231.3,1804.9 232.5,1806.7 233.6,1808.4 234.7,1810.0 235.8,1811.5 237.0,1812.7 238.1,1813.6 239.2,1814.2 240.3,1814.4" stroke="#18336e" stroke-width="2.2"/>
<polyline points="224.6,1814.4 225.7,1814.2 226.8,1813.6 228.0,1812.7 229.1,1811.5 230.2,1810.0 231.3,1808.4 232.5,1806.7 233.6,1804.9 234.7,1803.3 235.8,1801.8 237.0,1800.6 238.1,1799.7 239.2,1799.1 240.3,1798.9" stroke="#f23aa8" stroke-width="3.6"/>
<polyline points="224.6,1814.4 225.7,1814.2 226.8,1813.6 228.0,1812.7 229.1,1811.5 230.2,1810.0 231.3,1808.4 232.5,1806.7 233.6,1804.9 234.7,1803.3 235.8,1801.8 237.0,1800.6 238.1,1799.7 239.2,1799.1 240.3,1798.9" stroke="#ffb8e4" stroke-width="1.2"/>
<polyline points="240.3,1798.9 241.5,1799.1 242.6,1799.7 243.7,1800.6 244.8,1801.8 246.0,1803.3 247.1,1804.9 248.2,1806.7 249.3,1808.4 250.5,1810.0 251.6,1811.5 252.7,1812.7 253.8,1813.6 255.0,1814.2 256.1,1814.4" stroke="#8a2062" stroke-width="2.2"/>
<polyline points="240.3,1814.4 241.5,1814.2 242.6,1813.6 243.7,1812.7 244.8,1811.5 246.0,1810.0 247.1,1808.4 248.2,1806.7 249.3,1804.9 250.5,1803.3 251.6,1801.8 252.7,1800.6 253.8,1799.7 255.0,1799.1 256.1,1798.9" stroke="#3f72c0" stroke-width="3.6"/>
<polyline points="240.3,1814.4 241.5,1814.2 242.6,1813.6 243.7,1812.7 244.8,1811.5 246.0,1810.0 247.1,1808.4 248.2,1806.7 249.3,1804.9 250.5,1803.3 251.6,1801.8 252.7,1800.6 253.8,1799.7 255.0,1799.1 256.1,1798.9" stroke="#a8ccf4" stroke-width="1.2"/>
<polyline points="256.1,1798.9 257.2,1799.1 258.3,1799.7 259.5,1800.6 260.6,1801.8 261.7,1803.3 262.8,1804.9 264.0,1806.7 265.1,1808.4 266.2,1810.0 267.3,1811.5 268.5,1812.7 269.6,1813.6 270.7,1814.2 271.8,1814.4" stroke="#18336e" stroke-width="2.2"/>
<polyline points="256.1,1814.4 257.2,1814.2 258.3,1813.6 259.5,1812.7 260.6,1811.5 261.7,1810.0 262.8,1808.4 264.0,1806.7 265.1,1804.9 266.2,1803.3 267.3,1801.8 268.5,1800.6 269.6,1799.7 270.7,1799.1 271.8,1798.9" stroke="#f23aa8" stroke-width="3.6"/>
<polyline points="256.1,1814.4 257.2,1814.2 258.3,1813.6 259.5,1812.7 260.6,1811.5 261.7,1810.0 262.8,1808.4 264.0,1806.7 265.1,1804.9 266.2,1803.3 267.3,1801.8 268.5,1800.6 269.6,1799.7 270.7,1799.1 271.8,1798.9" stroke="#ffb8e4" stroke-width="1.2"/>
<polyline points="271.8,1798.9 273.0,1799.1 274.1,1799.7 275.2,1800.6 276.3,1801.8 277.5,1803.3 278.6,1804.9 279.7,1806.7 280.8,1808.4 282.0,1810.0 283.1,1811.5 284.2,1812.7 285.3,1813.6 286.5,1814.2 287.6,1814.4" stroke="#8a2062" stroke-width="2.2"/>
<polyline points="271.8,1814.4 273.0,1814.2 274.1,1813.6 275.2,1812.7 276.3,1811.5 277.5,1810.0 278.6,1808.4 279.7,1806.7 280.8,1804.9 282.0,1803.3 283.1,1801.8 284.2,1800.6 285.3,1799.7 286.5,1799.1 287.6,1798.9" stroke="#3f72c0" stroke-width="3.6"/>
<polyline points="271.8,1814.4 273.0,1814.2 274.1,1813.6 275.2,1812.7 276.3,1811.5 277.5,1810.0 278.6,1808.4 279.7,1806.7 280.8,1804.9 282.0,1803.3 283.1,1801.8 284.2,1800.6 285.3,1799.7 286.5,1799.1 287.6,1798.9" stroke="#a8ccf4" stroke-width="1.2"/>
<polyline points="287.6,1798.9 288.7,1799.1 289.8,1799.7 291.0,1800.6 292.1,1801.8 293.2,1803.3 294.3,1804.9 295.5,1806.7 296.6,1808.4 297.7,1810.0 298.8,1811.5 300.0,1812.7 301.1,1813.6 302.2,1814.2 303.3,1814.4" stroke="#18336e" stroke-width="2.2"/>
<polyline points="287.6,1814.4 288.7,1814.2 289.8,1813.6 291.0,1812.7 292.1,1811.5 293.2,1810.0 294.3,1808.4 295.5,1806.7 296.6,1804.9 297.7,1803.3 298.8,1801.8 300.0,1800.6 301.1,1799.7 302.2,1799.1 303.3,1798.9" stroke="#f23aa8" stroke-width="3.6"/>
<polyline points="287.6,1814.4 288.7,1814.2 289.8,1813.6 291.0,1812.7 292.1,1811.5 293.2,1810.0 294.3,1808.4 295.5,1806.7 296.6,1804.9 297.7,1803.3 298.8,1801.8 300.0,1800.6 301.1,1799.7 302.2,1799.1 303.3,1798.9" stroke="#ffb8e4" stroke-width="1.2"/>
<polyline points="303.3,1798.9 304.5,1799.1 305.6,1799.7 306.7,1800.6 307.8,1801.8 309.0,1803.3 310.1,1804.9 311.2,1806.7 312.3,1808.4 313.5,1810.0 314.6,1811.5 315.7,1812.7 316.8,1813.6 318.0,1814.2 319.1,1814.4" stroke="#8a2062" stroke-width="2.2"/>
<polyline points="303.3,1814.4 304.5,1814.2 305.6,1813.6 306.7,1812.7 307.8,1811.5 309.0,1810.0 310.1,1808.4 311.2,1806.7 312.3,1804.9 313.5,1803.3 314.6,1801.8 315.7,1800.6 316.8,1799.7 318.0,1799.1 319.1,1798.9" stroke="#3f72c0" stroke-width="3.6"/>
<polyline points="303.3,1814.4 304.5,1814.2 305.6,1813.6 306.7,1812.7 307.8,1811.5 309.0,1810.0 310.1,1808.4 311.2,1806.7 312.3,1804.9 313.5,1803.3 314.6,1801.8 315.7,1800.6 316.8,1799.7 318.0,1799.1 319.1,1798.9" stroke="#a8ccf4" stroke-width="1.2"/>
<polyline points="319.1,1798.9 320.2,1799.1 321.3,1799.7 322.5,1800.6 323.6,1801.8 324.7,1803.3 325.8,1804.9 327.0,1806.7 328.1,1808.4 329.2,1810.0 330.3,1811.5 331.5,1812.7 332.6,1813.6 333.7,1814.2 334.8,1814.4" stroke="#18336e" stroke-width="2.2"/>
<polyline points="319.1,1814.4 320.2,1814.2 321.3,1813.6 322.5,1812.7 323.6,1811.5 324.7,1810.0 325.8,1808.4 327.0,1806.7 328.1,1804.9 329.2,1803.3 330.3,1801.8 331.5,1800.6 332.6,1799.7 333.7,1799.1 334.8,1798.9" stroke="#f23aa8" stroke-width="3.6"/>
<polyline points="319.1,1814.4 320.2,1814.2 321.3,1813.6 322.5,1812.7 323.6,1811.5 324.7,1810.0 325.8,1808.4 327.0,1806.7 328.1,1804.9 329.2,1803.3 330.3,1801.8 331.5,1800.6 332.6,1799.7 333.7,1799.1 334.8,1798.9" stroke="#ffb8e4" stroke-width="1.2"/>
</g>
<path d="M207.6 1801.8000000000002 L213.0 1796.4 H237 V1813.8 L231.6 1819.2 H207.6Z" fill="#dcdcdc" stroke="#3a3a3a" stroke-width="0.8" stroke-linejoin="round"/>
<path d="M207.6 1801.8000000000002 L213.0 1796.4 H237 L231.6 1801.8000000000002Z" fill="#fff" stroke="#3a3a3a" stroke-width="0.6" stroke-linejoin="round"/>
<rect x="207.6" y="1801.8000000000002" width="24.0" height="17.4" fill="#fff" stroke="#3a3a3a" stroke-width="0.8"/>
<path d="M269.5 1795.6 V1781.6 H300.6 M300.6 1771.9 V1790.9" fill="none" stroke="#0a0a0a" stroke-width="2.6"/>
<path d="M229 1825.4 V1865" stroke="#0a0a0a" stroke-width="2" fill="none"/>
<path d="M229 1871 L225.8 1863.4 Q229 1865 232.2 1863.4Z" fill="#0a0a0a"/>
<text x="228.0" y="1881.7" font-size="14.19" text-anchor="middle" fill="#111" textLength="160.3" lengthAdjust="spacingAndGlyphs">Skotomorphogenesis</text>
<ellipse cx="637.3" cy="1668.3" rx="18.3" ry="34.2" fill="#c00000" stroke="#3a0a0a" stroke-width="0.8"/>
<path d="M572.3 1666.7 Q581.9 1669.3 582.9 1678.3" fill="none" stroke="#7a7a7a" stroke-width="1.4"/>
<path d="M608.0 1664.0 Q596.7 1669.3 595.7 1678.3" fill="none" stroke="#7a7a7a" stroke-width="1.4"/>
<ellipse cx="562.3" cy="1657.7" rx="18.4" ry="8.6" fill="#2e75b6" stroke="#1f2f3f" stroke-width="0.8" transform="rotate(40 562.3 1657.7)"/>
<ellipse cx="618.0" cy="1655.0" rx="18.4" ry="8.6" fill="#2e75b6" stroke="#1f2f3f" stroke-width="0.8" transform="rotate(-42 618.0 1655.0)"/>
<rect x="571.3" y="1677.3" width="17.2" height="59.4" rx="8.6" ry="9.0" fill="#9dc3e6" stroke="#1a1a1a" stroke-width="1"/>
<rect x="590.1" y="1677.3" width="17.2" height="59.4" rx="8.6" ry="9.0" fill="#9dc3e6" stroke="#1a1a1a" stroke-width="1"/>
<text x="590.5" y="1650.0" font-size="14.44" text-anchor="middle" fill="#1a1af0" textLength="39.3" lengthAdjust="spacingAndGlyphs">phyA</text>
<path transform="translate(0.0 0.0)" d="M604.6 1697 C605 1690.5 613 1688 620 1691.5 C628 1696 634 1701 640 1702 C648 1701.5 660 1695 668 1694 C674 1693.8 676 1698 674 1703 C671 1713 660 1722 650 1726 C642 1729 630 1729 623 1726 C613 1721 604.5 1708 604.6 1697Z" fill="#c55a11" stroke="#3a2a10" stroke-width="0.8"/>
<text x="614.6" y="1706.0" font-size="9.6" text-anchor="middle" fill="#33ee33" transform="rotate(50 614.6 1706.0)">NT545</text>
<text x="636.8" y="1711.0" font-size="9.6" text-anchor="middle" fill="#33ee33" transform="rotate(-8 636.8 1711.0)">CC</text>
<text x="661.0" y="1709.6" font-size="9.6" text-anchor="middle" fill="#33ee33" transform="rotate(-38 661.0 1709.6)">CT509</text>
<text x="644.4" y="1667.3" font-size="16.2" text-anchor="middle" fill="#ffff00" transform="rotate(-90 644.4 1667.3)" textLength="40.2" lengthAdjust="spacingAndGlyphs">COP1</text>
<text x="638.1" y="1740.7" font-size="14.41" text-anchor="middle" fill="#ff1010" textLength="39.2" lengthAdjust="spacingAndGlyphs">SPA1</text>
<rect x="580.7" y="1782.7" width="133.0" height="23.0" fill="#101010"/>
<g clip-path="url(#dna580)" fill="none" stroke-linecap="round">
<path d="M588.3 1800.4 L591.5 1788.0 M591.9 1800.6 L595.1 1787.8 M602.7 1789.0 L605.9 1799.4 M609.9 1789.3 L613.1 1799.1 M620.7 1800.7 L623.9 1787.7 M624.3 1800.1 L627.5 1788.3 M635.1 1788.3 L638.3 1800.1 M642.3 1790.2 L645.5 1798.2 M653.1 1800.9 L656.3 1787.5 M656.7 1799.5 L659.9 1788.9 M663.9 1790.8 L667.1 1797.6 M667.5 1787.8 L670.7 1800.6 M674.7 1791.3 L677.9 1797.1 M685.5 1800.9 L688.7 1787.5 M689.1 1798.6 L692.3 1789.8 M696.3 1789.8 L699.5 1798.6 M699.9 1787.5 L703.1 1800.9 M710.7 1797.1 L713.9 1791.3 " stroke="#d8241c" stroke-width="1.1"/>
<path d="M584.7 1797.1 L587.9 1791.3 M595.5 1797.7 L598.7 1790.7 M606.3 1787.5 L609.5 1800.9 M617.1 1798.1 L620.3 1790.3 M627.9 1796.6 L631.1 1791.8 M638.7 1787.6 L641.9 1800.8 M649.5 1799.0 L652.7 1789.4 M671.1 1788.0 L674.3 1800.4 M681.9 1799.8 L685.1 1788.6 M703.5 1788.6 L706.7 1799.8 " stroke="#e07a18" stroke-width="1.1"/>
<polyline points="544.7,1786.3 545.8,1786.5 546.9,1787.1 548.1,1788.0 549.2,1789.3 550.3,1790.8 551.4,1792.4 552.6,1794.2 553.7,1796.0 554.8,1797.6 555.9,1799.1 557.1,1800.4 558.2,1801.3 559.3,1801.9 560.4,1802.1" stroke="#18336e" stroke-width="2.2"/>
<polyline points="544.7,1802.1 545.8,1801.9 546.9,1801.3 548.1,1800.4 549.2,1799.1 550.3,1797.6 551.4,1796.0 552.6,1794.2 553.7,1792.4 554.8,1790.8 555.9,1789.3 557.1,1788.0 558.2,1787.1 559.3,1786.5 560.4,1786.3" stroke="#f23aa8" stroke-width="3.6"/>
<polyline points="544.7,1802.1 545.8,1801.9 546.9,1801.3 548.1,1800.4 549.2,1799.1 550.3,1797.6 551.4,1796.0 552.6,1794.2 553.7,1792.4 554.8,1790.8 555.9,1789.3 557.1,1788.0 558.2,1787.1 559.3,1786.5 560.4,1786.3" stroke="#ffb8e4" stroke-width="1.2"/>
<polyline points="560.4,1786.3 561.6,1786.5 562.7,1787.1 563.8,1788.0 564.9,1789.3 566.1,1790.8 567.2,1792.4 568.3,1794.2 569.4,1796.0 570.6,1797.6 571.7,1799.1 572.8,1800.4 573.9,1801.3 575.1,1801.9 576.2,1802.1" stroke="#8a2062" stroke-width="2.2"/>
<polyline points="560.4,1802.1 561.6,1801.9 562.7,1801.3 563.8,1800.4 564.9,1799.1 566.1,1797.6 567.2,1796.0 568.3,1794.2 569.4,1792.4 570.6,1790.8 571.7,1789.3 572.8,1788.0 573.9,1787.1 575.1,1786.5 576.2,1786.3" stroke="#3f72c0" stroke-width="3.6"/>
<polyline points="560.4,1802.1 561.6,1801.9 562.7,1801.3 563.8,1800.4 564.9,1799.1 566.1,1797.6 567.2,1796.0 568.3,1794.2 569.4,1792.4 570.6,1790.8 571.7,1789.3 572.8,1788.0 573.9,1787.1 575.1,1786.5 576.2,1786.3" stroke="#a8ccf4" stroke-width="1.2"/>
<polyline points="576.2,1786.3 577.3,1786.5 578.4,1787.1 579.6,1788.0 580.7,1789.3 581.8,1790.8 582.9,1792.4 584.1,1794.2 585.2,1796.0 586.3,1797.6 587.4,1799.1 588.6,1800.4 589.7,1801.3 590.8,1801.9 591.9,1802.1" stroke="#18336e" stroke-width="2.2"/>
<polyline points="576.2,1802.1 577.3,1801.9 578.4,1801.3 579.6,1800.4 580.7,1799.1 581.8,1797.6 582.9,1796.0 584.1,1794.2 585.2,1792.4 586.3,1790.8 587.4,1789.3 588.6,1788.0 589.7,1787.1 590.8,1786.5 591.9,1786.3" stroke="#f23aa8" stroke-width="3.6"/>
<polyline points="576.2,1802.1 577.3,1801.9 578.4,1801.3 579.6,1800.4 580.7,1799.1 581.8,1797.6 582.9,1796.0 584.1,1794.2 585.2,1792.4 586.3,1790.8 587.4,1789.3 588.6,1788.0 589.7,1787.1 590.8,1786.5 591.9,1786.3" stroke="#ffb8e4" stroke-width="1.2"/>
<polyline points="591.9,1786.3 593.1,1786.5 594.2,1787.1 595.3,1788.0 596.4,1789.3 597.6,1790.8 598.7,1792.4 599.8,1794.2 600.9,1796.0 602.1,1797.6 603.2,1799.1 604.3,1800.4 605.4,1801.3 606.6,1801.9 607.7,1802.1" stroke="#8a2062" stroke-width="2.2"/>
<polyline points="591.9,1802.1 593.1,1801.9 594.2,1801.3 595.3,1800.4 596.4,1799.1 597.6,1797.6 598.7,1796.0 599.8,1794.2 600.9,1792.4 602.1,1790.8 603.2,1789.3 604.3,1788.0 605.4,1787.1 606.6,1786.5 607.7,1786.3" stroke="#3f72c0" stroke-width="3.6"/>
<polyline points="591.9,1802.1 593.1,1801.9 594.2,1801.3 595.3,1800.4 596.4,1799.1 597.6,1797.6 598.7,1796.0 599.8,1794.2 600.9,1792.4 602.1,1790.8 603.2,1789.3 604.3,1788.0 605.4,1787.1 606.6,1786.5 607.7,1786.3" stroke="#a8ccf4" stroke-width="1.2"/>
<polyline points="607.7,1786.3 608.8,1786.5 609.9,1787.1 611.1,1788.0 612.2,1789.3 613.3,1790.8 614.4,1792.4 615.6,1794.2 616.7,1796.0 617.8,1797.6 618.9,1799.1 620.1,1800.4 621.2,1801.3 622.3,1801.9 623.4,1802.1" stroke="#18336e" stroke-width="2.2"/>
<polyline points="607.7,1802.1 608.8,1801.9 609.9,1801.3 611.1,1800.4 612.2,1799.1 613.3,1797.6 614.4,1796.0 615.6,1794.2 616.7,1792.4 617.8,1790.8 618.9,1789.3 620.1,1788.0 621.2,1787.1 622.3,1786.5 623.4,1786.3" stroke="#f23aa8" stroke-width="3.6"/>
<polyline points="607.7,1802.1 608.8,1801.9 609.9,1801.3 611.1,1800.4 612.2,1799.1 613.3,1797.6 614.4,1796.0 615.6,1794.2 616.7,1792.4 617.8,1790.8 618.9,1789.3 620.1,1788.0 621.2,1787.1 622.3,1786.5 623.4,1786.3" stroke="#ffb8e4" stroke-width="1.2"/>
<polyline points="623.4,1786.3 624.6,1786.5 625.7,1787.1 626.8,1788.0 627.9,1789.3 629.1,1790.8 630.2,1792.4 631.3,1794.2 632.4,1796.0 633.6,1797.6 634.7,1799.1 635.8,1800.4 636.9,1801.3 638.1,1801.9 639.2,1802.1" stroke="#8a2062" stroke-width="2.2"/>
<polyline points="623.4,1802.1 624.6,1801.9 625.7,1801.3 626.8,1800.4 627.9,1799.1 629.1,1797.6 630.2,1796.0 631.3,1794.2 632.4,1792.4 633.6,1790.8 634.7,1789.3 635.8,1788.0 636.9,1787.1 638.1,1786.5 639.2,1786.3" stroke="#3f72c0" stroke-width="3.6"/>
<polyline points="623.4,1802.1 624.6,1801.9 625.7,1801.3 626.8,1800.4 627.9,1799.1 629.1,1797.6 630.2,1796.0 631.3,1794.2 632.4,1792.4 633.6,1790.8 634.7,1789.3 635.8,1788.0 636.9,1787.1 638.1,1786.5 639.2,1786.3" stroke="#a8ccf4" stroke-width="1.2"/>
<polyline points="639.2,1786.3 640.3,1786.5 641.4,1787.1 642.6,1788.0 643.7,1789.3 644.8,1790.8 645.9,1792.4 647.1,1794.2 648.2,1796.0 649.3,1797.6 650.4,1799.1 651.6,1800.4 652.7,1801.3 653.8,1801.9 654.9,1802.1" stroke="#18336e" stroke-width="2.2"/>
<polyline points="639.2,1802.1 640.3,1801.9 641.4,1801.3 642.6,1800.4 643.7,1799.1 644.8,1797.6 645.9,1796.0 647.1,1794.2 648.2,1792.4 649.3,1790.8 650.4,1789.3 651.6,1788.0 652.7,1787.1 653.8,1786.5 654.9,1786.3" stroke="#f23aa8" stroke-width="3.6"/>
<polyline points="639.2,1802.1 640.3,1801.9 641.4,1801.3 642.6,1800.4 643.7,1799.1 644.8,1797.6 645.9,1796.0 647.1,1794.2 648.2,1792.4 649.3,1790.8 650.4,1789.3 651.6,1788.0 652.7,1787.1 653.8,1786.5 654.9,1786.3" stroke="#ffb8e4" stroke-width="1.2"/>
<polyline points="654.9,1786.3 656.1,1786.5 657.2,1787.1 658.3,1788.0 659.4,1789.3 660.6,1790.8 661.7,1792.4 662.8,1794.2 663.9,1796.0 665.1,1797.6 666.2,1799.1 667.3,1800.4 668.4,1801.3 669.6,1801.9 670.7,1802.1" stroke="#8a2062" stroke-width="2.2"/>
<polyline points="654.9,1802.1 656.1,1801.9 657.2,1801.3 658.3,1800.4 659.4,1799.1 660.6,1797.6 661.7,1796.0 662.8,1794.2 663.9,1792.4 665.1,1790.8 666.2,1789.3 667.3,1788.0 668.4,1787.1 669.6,1786.5 670.7,1786.3" stroke="#3f72c0" stroke-width="3.6"/>
<polyline points="654.9,1802.1 656.1,1801.9 657.2,1801.3 658.3,1800.4 659.4,1799.1 660.6,1797.6 661.7,1796.0 662.8,1794.2 663.9,1792.4 665.1,1790.8 666.2,1789.3 667.3,1788.0 668.4,1787.1 669.6,1786.5 670.7,1786.3" stroke="#a8ccf4" stroke-width="1.2"/>
<polyline points="670.7,1786.3 671.8,1786.5 672.9,1787.1 674.1,1788.0 675.2,1789.3 676.3,1790.8 677.4,1792.4 678.6,1794.2 679.7,1796.0 680.8,1797.6 681.9,1799.1 683.1,1800.4 684.2,1801.3 685.3,1801.9 686.4,1802.1" stroke="#18336e" stroke-width="2.2"/>
<polyline points="670.7,1802.1 671.8,1801.9 672.9,1801.3 674.1,1800.4 675.2,1799.1 676.3,1797.6 677.4,1796.0 678.6,1794.2 679.7,1792.4 680.8,1790.8 681.9,1789.3 683.1,1788.0 684.2,1787.1 685.3,1786.5 686.4,1786.3" stroke="#f23aa8" stroke-width="3.6"/>
<polyline points="670.7,1802.1 671.8,1801.9 672.9,1801.3 674.1,1800.4 675.2,1799.1 676.3,1797.6 677.4,1796.0 678.6,1794.2 679.7,1792.4 680.8,1790.8 681.9,1789.3 683.1,1788.0 684.2,1787.1 685.3,1786.5 686.4,1786.3" stroke="#ffb8e4" stroke-width="1.2"/>
<polyline points="686.4,1786.3 687.6,1786.5 688.7,1787.1 689.8,1788.0 690.9,1789.3 692.1,1790.8 693.2,1792.4 694.3,1794.2 695.4,1796.0 696.6,1797.6 697.7,1799.1 698.8,1800.4 699.9,1801.3 701.1,1801.9 702.2,1802.1" stroke="#8a2062" stroke-width="2.2"/>
<polyline points="686.4,1802.1 687.6,1801.9 688.7,1801.3 689.8,1800.4 690.9,1799.1 692.1,1797.6 693.2,1796.0 694.3,1794.2 695.4,1792.4 696.6,1790.8 697.7,1789.3 698.8,1788.0 699.9,1787.1 701.1,1786.5 702.2,1786.3" stroke="#3f72c0" stroke-width="3.6"/>
<polyline points="686.4,1802.1 687.6,1801.9 688.7,1801.3 689.8,1800.4 690.9,1799.1 692.1,1797.6 693.2,1796.0 694.3,1794.2 695.4,1792.4 696.6,1790.8 697.7,1789.3 698.8,1788.0 699.9,1787.1 701.1,1786.5 702.2,1786.3" stroke="#a8ccf4" stroke-width="1.2"/>
<polyline points="702.2,1786.3 703.3,1786.5 704.4,1787.1 705.6,1788.0 706.7,1789.3 707.8,1790.8 708.9,1792.4 710.1,1794.2 711.2,1796.0 712.3,1797.6 713.4,1799.1 714.6,1800.4 715.7,1801.3 716.8,1801.9 717.9,1802.1" stroke="#18336e" stroke-width="2.2"/>
<polyline points="702.2,1802.1 703.3,1801.9 704.4,1801.3 705.6,1800.4 706.7,1799.1 707.8,1797.6 708.9,1796.0 710.1,1794.2 711.2,1792.4 712.3,1790.8 713.4,1789.3 714.6,1788.0 715.7,1787.1 716.8,1786.5 717.9,1786.3" stroke="#f23aa8" stroke-width="3.6"/>
<polyline points="702.2,1802.1 703.3,1801.9 704.4,1801.3 705.6,1800.4 706.7,1799.1 707.8,1797.6 708.9,1796.0 710.1,1794.2 711.2,1792.4 712.3,1790.8 713.4,1789.3 714.6,1788.0 715.7,1787.1 716.8,1786.5 717.9,1786.3" stroke="#ffb8e4" stroke-width="1.2"/>
<polyline points="717.9,1786.3 719.1,1786.5 720.2,1787.1 721.3,1788.0 722.4,1789.3 723.6,1790.8 724.7,1792.4 725.8,1794.2 726.9,1796.0 728.1,1797.6 729.2,1799.1 730.3,1800.4 731.4,1801.3 732.6,1801.9 733.7,1802.1" stroke="#8a2062" stroke-width="2.2"/>
<polyline points="717.9,1802.1 719.1,1801.9 720.2,1801.3 721.3,1800.4 722.4,1799.1 723.6,1797.6 724.7,1796.0 725.8,1794.2 726.9,1792.4 728.1,1790.8 729.2,1789.3 730.3,1788.0 731.4,1787.1 732.6,1786.5 733.7,1786.3" stroke="#3f72c0" stroke-width="3.6"/>
<polyline points="717.9,1802.1 719.1,1801.9 720.2,1801.3 721.3,1800.4 722.4,1799.1 723.6,1797.6 724.7,1796.0 725.8,1794.2 726.9,1792.4 728.1,1790.8 729.2,1789.3 730.3,1788.0 731.4,1787.1 732.6,1786.5 733.7,1786.3" stroke="#a8ccf4" stroke-width="1.2"/>
<polyline points="733.7,1786.3 734.8,1786.5 735.9,1787.1 737.1,1788.0 738.2,1789.3 739.3,1790.8 740.4,1792.4 741.6,1794.2 742.7,1796.0 743.8,1797.6 744.9,1799.1 746.1,1800.4 747.2,1801.3 748.3,1801.9 749.4,1802.1" stroke="#18336e" stroke-width="2.2"/>
<polyline points="733.7,1802.1 734.8,1801.9 735.9,1801.3 737.1,1800.4 738.2,1799.1 739.3,1797.6 740.4,1796.0 741.6,1794.2 742.7,1792.4 743.8,1790.8 744.9,1789.3 746.1,1788.0 747.2,1787.1 748.3,1786.5 749.4,1786.3" stroke="#f23aa8" stroke-width="3.6"/>
<polyline points="733.7,1802.1 734.8,1801.9 735.9,1801.3 737.1,1800.4 738.2,1799.1 739.3,1797.6 740.4,1796.0 741.6,1794.2 742.7,1792.4 743.8,1790.8 744.9,1789.3 746.1,1788.0 747.2,1787.1 748.3,1786.5 749.4,1786.3" stroke="#ffb8e4" stroke-width="1.2"/>
</g>
<ellipse cx="631.3" cy="1766" rx="27.3" ry="21.2" fill="#ffff00" stroke="#222" stroke-width="0.9"/>
<text x="631.9" y="1770.6" font-size="11.59" text-anchor="middle" fill="#111" textLength="45.0" lengthAdjust="spacingAndGlyphs">HY5 etc</text>
<path d="M614 1791.4 L619.4 1786 H644.7 V1802.3 L639.3000000000001 1807.7 H614Z" fill="#dcdcdc" stroke="#3a3a3a" stroke-width="0.8" stroke-linejoin="round"/>
<path d="M614 1791.4 L619.4 1786 H644.7 L639.3000000000001 1791.4Z" fill="#fff" stroke="#3a3a3a" stroke-width="0.6" stroke-linejoin="round"/>
<rect x="614" y="1791.4" width="25.3" height="16.3" fill="#fff" stroke="#3a3a3a" stroke-width="0.8"/>
<path d="M692.6 1783 V1770.8 H702.2 M710.8 1770.8 H720.4" fill="none" stroke="#c00000" stroke-width="2.4"/>
<path d="M734.4 1770.8 L727 1767.2 V1774.4Z" fill="#c00000"/>
<path d="M652.7 1809.2 V1819.6 M652.7 1823.8 V1836.8 M652.7 1843 V1853.4" stroke="#c00000" stroke-width="2.6" fill="none"/>
<path d="M652.7 1860.4 L648.6 1852.6 H656.8Z" fill="#c00000"/>
<text x="660.9" y="1876.5" font-size="14.37" text-anchor="middle" fill="#c00000" textLength="163.2" lengthAdjust="spacingAndGlyphs">Photomorphogenesis</text>
<path d="M983.7 1661.3 Q993.3 1663.0 994.3 1672.0" fill="none" stroke="#7a7a7a" stroke-width="1.4"/>
<path d="M1014.6 1659.6 Q1008.1 1663.0 1007.1 1672.0" fill="none" stroke="#7a7a7a" stroke-width="1.4"/>
<ellipse cx="973.7" cy="1652.3" rx="18.4" ry="8.6" fill="#2e75b6" stroke="#1f2f3f" stroke-width="0.8" transform="rotate(42 973.7 1652.3)"/>
<ellipse cx="1024.6" cy="1650.6" rx="18.4" ry="8.6" fill="#2e75b6" stroke="#1f2f3f" stroke-width="0.8" transform="rotate(-52 1024.6 1650.6)"/>
<rect x="982.7" y="1671.0" width="17.2" height="59.7" rx="8.6" ry="9.0" fill="#9dc3e6" stroke="#1a1a1a" stroke-width="1"/>
<rect x="1001.5" y="1671.0" width="17.2" height="59.7" rx="8.6" ry="9.0" fill="#9dc3e6" stroke="#1a1a1a" stroke-width="1"/>
<path d="M1082.0 1658.6 Q1083.6 1662.0 1084.6 1671.0" fill="none" stroke="#7a7a7a" stroke-width="1.4"/>
<path d="M1108.3 1656.7 Q1099.1 1662.0 1098.1 1671.0" fill="none" stroke="#7a7a7a" stroke-width="1.4"/>
<ellipse cx="1072.0" cy="1649.6" rx="18.4" ry="8.6" fill="#548235" stroke="#1f2f3f" stroke-width="0.8" transform="rotate(52 1072.0 1649.6)"/>
<ellipse cx="1118.3" cy="1647.7" rx="18.4" ry="8.6" fill="#548235" stroke="#1f2f3f" stroke-width="0.8" transform="rotate(-44 1118.3 1647.7)"/>
<rect x="1072.7" y="1670.0" width="17.8" height="59.3" rx="8.9" ry="9.4" fill="#a9d18e" stroke="#1a1a1a" stroke-width="1"/>
<rect x="1092.2" y="1670.0" width="17.8" height="59.3" rx="8.9" ry="9.4" fill="#a9d18e" stroke="#1a1a1a" stroke-width="1"/>
<text x="1001.9" y="1640.7" font-size="14.4" text-anchor="middle" fill="#1a1af0" textLength="39.2" lengthAdjust="spacingAndGlyphs">phyA</text>
<text x="1093.8" y="1639.3" font-size="14.66" text-anchor="middle" fill="#4f8a2c" textLength="39.9" lengthAdjust="spacingAndGlyphs">phyB</text>
<ellipse cx="1048.3" cy="1657.7" rx="18.2" ry="33.8" fill="#c00000" stroke="#3a0a0a" stroke-width="0.8"/>
<path transform="translate(408.8 -10.0)" d="M604.6 1697 C605 1690.5 613 1688 620 1691.5 C628 1696 634 1701 640 1702 C648 1701.5 660 1695 668 1694 C674 1693.8 676 1698 674 1703 C671 1713 660 1722 650 1726 C642 1729 630 1729 623 1726 C613 1721 604.5 1708 604.6 1697Z" fill="#c55a11" stroke="#3a2a10" stroke-width="0.8"/>
<text x="1023.4" y="1696.0" font-size="9.6" text-anchor="middle" fill="#33ee33" transform="rotate(50 1023.4 1696.0)">NT545</text>
<text x="1045.6" y="1701.0" font-size="9.6" text-anchor="middle" fill="#33ee33" transform="rotate(-8 1045.6 1701.0)">CC</text>
<text x="1069.8" y="1699.6" font-size="9.6" text-anchor="middle" fill="#33ee33" transform="rotate(-38 1069.8 1699.6)">CT509</text>
<text x="1055.4" y="1656.7" font-size="16.2" text-anchor="middle" fill="#ffff00" transform="rotate(-90 1055.4 1656.7)" textLength="40.2" lengthAdjust="spacingAndGlyphs">COP1</text>
<text x="1046.8" y="1730.7" font-size="14.41" text-anchor="middle" fill="#ff1010" textLength="39.2" lengthAdjust="spacingAndGlyphs">SPA1</text>
<path d="M980.3 1702.7 L952 1729.6" stroke="#1a1aff" stroke-width="2.2" stroke-dasharray="2.4 2" fill="none"/>
<path d="M946.4 1735 L950.2 1726.4 L955.4 1731.8Z" fill="#1a1aff"/>
<text x="940.9" y="1743.3" font-size="10.15" text-anchor="middle" fill="#1a1af0" textLength="62.3" lengthAdjust="spacingAndGlyphs">Degradation</text>
<rect x="976" y="1782.7" width="132.7" height="23.0" fill="#101010"/>
<g clip-path="url(#dna976)" fill="none" stroke-linecap="round">
<path d="M983.6 1800.4 L986.8 1788.0 M987.2 1800.6 L990.4 1787.8 M998.0 1789.0 L1001.2 1799.4 M1005.2 1789.3 L1008.4 1799.1 M1016.0 1800.7 L1019.2 1787.7 M1019.6 1800.1 L1022.8 1788.3 M1030.4 1788.3 L1033.6 1800.1 M1037.6 1790.2 L1040.8 1798.2 M1048.4 1800.9 L1051.6 1787.5 M1052.0 1799.5 L1055.2 1788.9 M1059.2 1790.8 L1062.4 1797.6 M1062.8 1787.8 L1066.0 1800.6 M1070.0 1791.3 L1073.2 1797.1 M1080.8 1800.9 L1084.0 1787.5 M1084.4 1798.6 L1087.6 1789.8 M1091.6 1789.8 L1094.8 1798.6 M1095.2 1787.5 L1098.4 1800.9 M1106.0 1797.1 L1109.2 1791.3 " stroke="#d8241c" stroke-width="1.1"/>
<path d="M980.0 1797.1 L983.2 1791.3 M990.8 1797.7 L994.0 1790.7 M1001.6 1787.5 L1004.8 1800.9 M1012.4 1798.1 L1015.6 1790.3 M1023.2 1796.6 L1026.4 1791.8 M1034.0 1787.6 L1037.2 1800.8 M1044.8 1799.0 L1048.0 1789.4 M1066.4 1788.0 L1069.6 1800.4 M1077.2 1799.8 L1080.4 1788.6 M1098.8 1788.6 L1102.0 1799.8 " stroke="#e07a18" stroke-width="1.1"/>
<polyline points="940.0,1786.3 941.1,1786.5 942.2,1787.1 943.4,1788.0 944.5,1789.3 945.6,1790.8 946.7,1792.4 947.9,1794.2 949.0,1796.0 950.1,1797.6 951.2,1799.1 952.4,1800.4 953.5,1801.3 954.6,1801.9 955.7,1802.1" stroke="#18336e" stroke-width="2.2"/>
<polyline points="940.0,1802.1 941.1,1801.9 942.2,1801.3 943.4,1800.4 944.5,1799.1 945.6,1797.6 946.7,1796.0 947.9,1794.2 949.0,1792.4 950.1,1790.8 951.2,1789.3 952.4,1788.0 953.5,1787.1 954.6,1786.5 955.7,1786.3" stroke="#f23aa8" stroke-width="3.6"/>
<polyline points="940.0,1802.1 941.1,1801.9 942.2,1801.3 943.4,1800.4 944.5,1799.1 945.6,1797.6 946.7,1796.0 947.9,1794.2 949.0,1792.4 950.1,1790.8 951.2,1789.3 952.4,1788.0 953.5,1787.1 954.6,1786.5 955.7,1786.3" stroke="#ffb8e4" stroke-width="1.2"/>
<polyline points="955.7,1786.3 956.9,1786.5 958.0,1787.1 959.1,1788.0 960.2,1789.3 961.4,1790.8 962.5,1792.4 963.6,1794.2 964.7,1796.0 965.9,1797.6 967.0,1799.1 968.1,1800.4 969.2,1801.3 970.4,1801.9 971.5,1802.1" stroke="#8a2062" stroke-width="2.2"/>
<polyline points="955.7,1802.1 956.9,1801.9 958.0,1801.3 959.1,1800.4 960.2,1799.1 961.4,1797.6 962.5,1796.0 963.6,1794.2 964.7,1792.4 965.9,1790.8 967.0,1789.3 968.1,1788.0 969.2,1787.1 970.4,1786.5 971.5,1786.3" stroke="#3f72c0" stroke-width="3.6"/>
<polyline points="955.7,1802.1 956.9,1801.9 958.0,1801.3 959.1,1800.4 960.2,1799.1 961.4,1797.6 962.5,1796.0 963.6,1794.2 964.7,1792.4 965.9,1790.8 967.0,1789.3 968.1,1788.0 969.2,1787.1 970.4,1786.5 971.5,1786.3" stroke="#a8ccf4" stroke-width="1.2"/>
<polyline points="971.5,1786.3 972.6,1786.5 973.7,1787.1 974.9,1788.0 976.0,1789.3 977.1,1790.8 978.2,1792.4 979.4,1794.2 980.5,1796.0 981.6,1797.6 982.7,1799.1 983.9,1800.4 985.0,1801.3 986.1,1801.9 987.2,1802.1" stroke="#18336e" stroke-width="2.2"/>
<polyline points="971.5,1802.1 972.6,1801.9 973.7,1801.3 974.9,1800.4 976.0,1799.1 977.1,1797.6 978.2,1796.0 979.4,1794.2 980.5,1792.4 981.6,1790.8 982.7,1789.3 983.9,1788.0 985.0,1787.1 986.1,1786.5 987.2,1786.3" stroke="#f23aa8" stroke-width="3.6"/>
<polyline points="971.5,1802.1 972.6,1801.9 973.7,1801.3 974.9,1800.4 976.0,1799.1 977.1,1797.6 978.2,1796.0 979.4,1794.2 980.5,1792.4 981.6,1790.8 982.7,1789.3 983.9,1788.0 985.0,1787.1 986.1,1786.5 987.2,1786.3" stroke="#ffb8e4" stroke-width="1.2"/>
<polyline points="987.2,1786.3 988.4,1786.5 989.5,1787.1 990.6,1788.0 991.7,1789.3 992.9,1790.8 994.0,1792.4 995.1,1794.2 996.2,1796.0 997.4,1797.6 998.5,1799.1 999.6,1800.4 1000.7,1801.3 1001.9,1801.9 1003.0,1802.1" stroke="#8a2062" stroke-width="2.2"/>
<polyline points="987.2,1802.1 988.4,1801.9 989.5,1801.3 990.6,1800.4 991.7,1799.1 992.9,1797.6 994.0,1796.0 995.1,1794.2 996.2,1792.4 997.4,1790.8 998.5,1789.3 999.6,1788.0 1000.7,1787.1 1001.9,1786.5 1003.0,1786.3" stroke="#3f72c0" stroke-width="3.6"/>
<polyline points="987.2,1802.1 988.4,1801.9 989.5,1801.3 990.6,1800.4 991.7,1799.1 992.9,1797.6 994.0,1796.0 995.1,1794.2 996.2,1792.4 997.4,1790.8 998.5,1789.3 999.6,1788.0 1000.7,1787.1 1001.9,1786.5 1003.0,1786.3" stroke="#a8ccf4" stroke-width="1.2"/>
<polyline points="1003.0,1786.3 1004.1,1786.5 1005.2,1787.1 1006.4,1788.0 1007.5,1789.3 1008.6,1790.8 1009.7,1792.4 1010.9,1794.2 1012.0,1796.0 1013.1,1797.6 1014.2,1799.1 1015.4,1800.4 1016.5,1801.3 1017.6,1801.9 1018.7,1802.1" stroke="#18336e" stroke-width="2.2"/>
<polyline points="1003.0,1802.1 1004.1,1801.9 1005.2,1801.3 1006.4,1800.4 1007.5,1799.1 1008.6,1797.6 1009.7,1796.0 1010.9,1794.2 1012.0,1792.4 1013.1,1790.8 1014.2,1789.3 1015.4,1788.0 1016.5,1787.1 1017.6,1786.5 1018.7,1786.3" stroke="#f23aa8" stroke-width="3.6"/>
<polyline points="1003.0,1802.1 1004.1,1801.9 1005.2,1801.3 1006.4,1800.4 1007.5,1799.1 1008.6,1797.6 1009.7,1796.0 1010.9,1794.2 1012.0,1792.4 1013.1,1790.8 1014.2,1789.3 1015.4,1788.0 1016.5,1787.1 1017.6,1786.5 1018.7,1786.3" stroke="#ffb8e4" stroke-width="1.2"/>
<polyline points="1018.7,1786.3 1019.9,1786.5 1021.0,1787.1 1022.1,1788.0 1023.2,1789.3 1024.4,1790.8 1025.5,1792.4 1026.6,1794.2 1027.7,1796.0 1028.9,1797.6 1030.0,1799.1 1031.1,1800.4 1032.2,1801.3 1033.4,1801.9 1034.5,1802.1" stroke="#8a2062" stroke-width="2.2"/>
<polyline points="1018.7,1802.1 1019.9,1801.9 1021.0,1801.3 1022.1,1800.4 1023.2,1799.1 1024.4,1797.6 1025.5,1796.0 1026.6,1794.2 1027.7,1792.4 1028.9,1790.8 1030.0,1789.3 1031.1,1788.0 1032.2,1787.1 1033.4,1786.5 1034.5,1786.3" stroke="#3f72c0" stroke-width="3.6"/>
<polyline points="1018.7,1802.1 1019.9,1801.9 1021.0,1801.3 1022.1,1800.4 1023.2,1799.1 1024.4,1797.6 1025.5,1796.0 1026.6,1794.2 1027.7,1792.4 1028.9,1790.8 1030.0,1789.3 1031.1,1788.0 1032.2,1787.1 1033.4,1786.5 1034.5,1786.3" stroke="#a8ccf4" stroke-width="1.2"/>
<polyline points="1034.5,1786.3 1035.6,1786.5 1036.7,1787.1 1037.9,1788.0 1039.0,1789.3 1040.1,1790.8 1041.2,1792.4 1042.4,1794.2 1043.5,1796.0 1044.6,1797.6 1045.7,1799.1 1046.9,1800.4 1048.0,1801.3 1049.1,1801.9 1050.2,1802.1" stroke="#18336e" stroke-width="2.2"/>
<polyline points="1034.5,1802.1 1035.6,1801.9 1036.7,1801.3 1037.9,1800.4 1039.0,1799.1 1040.1,1797.6 1041.2,1796.0 1042.4,1794.2 1043.5,1792.4 1044.6,1790.8 1045.7,1789.3 1046.9,1788.0 1048.0,1787.1 1049.1,1786.5 1050.2,1786.3" stroke="#f23aa8" stroke-width="3.6"/>
<polyline points="1034.5,1802.1 1035.6,1801.9 1036.7,1801.3 1037.9,1800.4 1039.0,1799.1 1040.1,1797.6 1041.2,1796.0 1042.4,1794.2 1043.5,1792.4 1044.6,1790.8 1045.7,1789.3 1046.9,1788.0 1048.0,1787.1 1049.1,1786.5 1050.2,1786.3" stroke="#ffb8e4" stroke-width="1.2"/>
<polyline points="1050.2,1786.3 1051.4,1786.5 1052.5,1787.1 1053.6,1788.0 1054.7,1789.3 1055.9,1790.8 1057.0,1792.4 1058.1,1794.2 1059.2,1796.0 1060.4,1797.6 1061.5,1799.1 1062.6,1800.4 1063.7,1801.3 1064.9,1801.9 1066.0,1802.1" stroke="#8a2062" stroke-width="2.2"/>
<polyline points="1050.2,1802.1 1051.4,1801.9 1052.5,1801.3 1053.6,1800.4 1054.7,1799.1 1055.9,1797.6 1057.0,1796.0 1058.1,1794.2 1059.2,1792.4 1060.4,1790.8 1061.5,1789.3 1062.6,1788.0 1063.7,1787.1 1064.9,1786.5 1066.0,1786.3" stroke="#3f72c0" stroke-width="3.6"/>
<polyline points="1050.2,1802.1 1051.4,1801.9 1052.5,1801.3 1053.6,1800.4 1054.7,1799.1 1055.9,1797.6 1057.0,1796.0 1058.1,1794.2 1059.2,1792.4 1060.4,1790.8 1061.5,1789.3 1062.6,1788.0 1063.7,1787.1 1064.9,1786.5 1066.0,1786.3" stroke="#a8ccf4" stroke-width="1.2"/>
<polyline points="1066.0,1786.3 1067.1,1786.5 1068.2,1787.1 1069.4,1788.0 1070.5,1789.3 1071.6,1790.8 1072.7,1792.4 1073.9,1794.2 1075.0,1796.0 1076.1,1797.6 1077.2,1799.1 1078.4,1800.4 1079.5,1801.3 1080.6,1801.9 1081.7,1802.1" stroke="#18336e" stroke-width="2.2"/>
<polyline points="1066.0,1802.1 1067.1,1801.9 1068.2,1801.3 1069.4,1800.4 1070.5,1799.1 1071.6,1797.6 1072.7,1796.0 1073.9,1794.2 1075.0,1792.4 1076.1,1790.8 1077.2,1789.3 1078.4,1788.0 1079.5,1787.1 1080.6,1786.5 1081.7,1786.3" stroke="#f23aa8" stroke-width="3.6"/>
<polyline points="1066.0,1802.1 1067.1,1801.9 1068.2,1801.3 1069.4,1800.4 1070.5,1799.1 1071.6,1797.6 1072.7,1796.0 1073.9,1794.2 1075.0,1792.4 1076.1,1790.8 1077.2,1789.3 1078.4,1788.0 1079.5,1787.1 1080.6,1786.5 1081.7,1786.3" stroke="#ffb8e4" stroke-width="1.2"/>
<polyline points="1081.7,1786.3 1082.9,1786.5 1084.0,1787.1 1085.1,1788.0 1086.2,1789.3 1087.4,1790.8 1088.5,1792.4 1089.6,1794.2 1090.7,1796.0 1091.9,1797.6 1093.0,1799.1 1094.1,1800.4 1095.2,1801.3 1096.4,1801.9 1097.5,1802.1" stroke="#8a2062" stroke-width="2.2"/>
<polyline points="1081.7,1802.1 1082.9,1801.9 1084.0,1801.3 1085.1,1800.4 1086.2,1799.1 1087.4,1797.6 1088.5,1796.0 1089.6,1794.2 1090.7,1792.4 1091.9,1790.8 1093.0,1789.3 1094.1,1788.0 1095.2,1787.1 1096.4,1786.5 1097.5,1786.3" stroke="#3f72c0" stroke-width="3.6"/>
<polyline points="1081.7,1802.1 1082.9,1801.9 1084.0,1801.3 1085.1,1800.4 1086.2,1799.1 1087.4,1797.6 1088.5,1796.0 1089.6,1794.2 1090.7,1792.4 1091.9,1790.8 1093.0,1789.3 1094.1,1788.0 1095.2,1787.1 1096.4,1786.5 1097.5,1786.3" stroke="#a8ccf4" stroke-width="1.2"/>
<polyline points="1097.5,1786.3 1098.6,1786.5 1099.7,1787.1 1100.9,1788.0 1102.0,1789.3 1103.1,1790.8 1104.2,1792.4 1105.4,1794.2 1106.5,1796.0 1107.6,1797.6 1108.7,1799.1 1109.9,1800.4 1111.0,1801.3 1112.1,1801.9 1113.2,1802.1" stroke="#18336e" stroke-width="2.2"/>
<polyline points="1097.5,1802.1 1098.6,1801.9 1099.7,1801.3 1100.9,1800.4 1102.0,1799.1 1103.1,1797.6 1104.2,1796.0 1105.4,1794.2 1106.5,1792.4 1107.6,1790.8 1108.7,1789.3 1109.9,1788.0 1111.0,1787.1 1112.1,1786.5 1113.2,1786.3" stroke="#f23aa8" stroke-width="3.6"/>
<polyline points="1097.5,1802.1 1098.6,1801.9 1099.7,1801.3 1100.9,1800.4 1102.0,1799.1 1103.1,1797.6 1104.2,1796.0 1105.4,1794.2 1106.5,1792.4 1107.6,1790.8 1108.7,1789.3 1109.9,1788.0 1111.0,1787.1 1112.1,1786.5 1113.2,1786.3" stroke="#ffb8e4" stroke-width="1.2"/>
<polyline points="1113.2,1786.3 1114.4,1786.5 1115.5,1787.1 1116.6,1788.0 1117.7,1789.3 1118.9,1790.8 1120.0,1792.4 1121.1,1794.2 1122.2,1796.0 1123.4,1797.6 1124.5,1799.1 1125.6,1800.4 1126.7,1801.3 1127.9,1801.9 1129.0,1802.1" stroke="#8a2062" stroke-width="2.2"/>
<polyline points="1113.2,1802.1 1114.4,1801.9 1115.5,1801.3 1116.6,1800.4 1117.7,1799.1 1118.9,1797.6 1120.0,1796.0 1121.1,1794.2 1122.2,1792.4 1123.4,1790.8 1124.5,1789.3 1125.6,1788.0 1126.7,1787.1 1127.9,1786.5 1129.0,1786.3" stroke="#3f72c0" stroke-width="3.6"/>
<polyline points="1113.2,1802.1 1114.4,1801.9 1115.5,1801.3 1116.6,1800.4 1117.7,1799.1 1118.9,1797.6 1120.0,1796.0 1121.1,1794.2 1122.2,1792.4 1123.4,1790.8 1124.5,1789.3 1125.6,1788.0 1126.7,1787.1 1127.9,1786.5 1129.0,1786.3" stroke="#a8ccf4" stroke-width="1.2"/>
<polyline points="1129.0,1786.3 1130.1,1786.5 1131.2,1787.1 1132.4,1788.0 1133.5,1789.3 1134.6,1790.8 1135.7,1792.4 1136.9,1794.2 1138.0,1796.0 1139.1,1797.6 1140.2,1799.1 1141.4,1800.4 1142.5,1801.3 1143.6,1801.9 1144.7,1802.1" stroke="#18336e" stroke-width="2.2"/>
<polyline points="1129.0,1802.1 1130.1,1801.9 1131.2,1801.3 1132.4,1800.4 1133.5,1799.1 1134.6,1797.6 1135.7,1796.0 1136.9,1794.2 1138.0,1792.4 1139.1,1790.8 1140.2,1789.3 1141.4,1788.0 1142.5,1787.1 1143.6,1786.5 1144.7,1786.3" stroke="#f23aa8" stroke-width="3.6"/>
<polyline points="1129.0,1802.1 1130.1,1801.9 1131.2,1801.3 1132.4,1800.4 1133.5,1799.1 1134.6,1797.6 1135.7,1796.0 1136.9,1794.2 1138.0,1792.4 1139.1,1790.8 1140.2,1789.3 1141.4,1788.0 1142.5,1787.1 1143.6,1786.5 1144.7,1786.3" stroke="#ffb8e4" stroke-width="1.2"/>
</g>
<ellipse cx="1026.3" cy="1766" rx="27" ry="21.2" fill="#ffff00" stroke="#222" stroke-width="0.9"/>
<text x="1026.8" y="1770.6" font-size="11.59" text-anchor="middle" fill="#111" textLength="45.0" lengthAdjust="spacingAndGlyphs">HY5 etc</text>
<path d="M1009.3 1791.4 L1014.6999999999999 1786 H1040 V1802.3 L1034.6 1807.7 H1009.3Z" fill="#dcdcdc" stroke="#3a3a3a" stroke-width="0.8" stroke-linejoin="round"/>
<path d="M1009.3 1791.4 L1014.6999999999999 1786 H1040 L1034.6 1791.4Z" fill="#fff" stroke="#3a3a3a" stroke-width="0.6" stroke-linejoin="round"/>
<rect x="1009.3" y="1791.4" width="25.3" height="16.3" fill="#fff" stroke="#3a3a3a" stroke-width="0.8"/>
<path d="M1086.7 1783 V1770.8 H1122" fill="none" stroke="#ff0000" stroke-width="2.8"/>
<path d="M1129.6 1770.8 L1121.4 1766.8 V1774.8Z" fill="#ff0000"/>
<path d="M1053.4 1809.3 V1853" stroke="#ff0000" stroke-width="3" fill="none"/>
<path d="M1053.4 1860.6 L1049 1852 H1057.8Z" fill="#ff0000"/>
<text x="1051.8" y="1878.3" font-size="15.96" text-anchor="middle" fill="#ff1a1a" textLength="181.3" lengthAdjust="spacingAndGlyphs">Photomorphogenesis</text>
</svg>
</body></html>
